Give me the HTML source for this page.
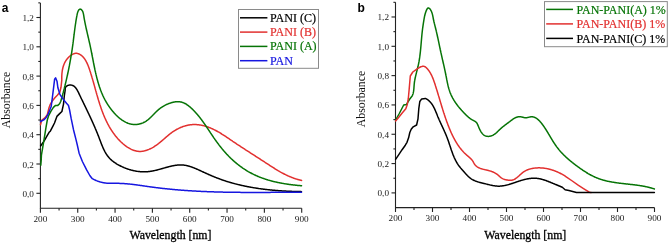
<!DOCTYPE html>
<html><head><meta charset="utf-8"><style>
html,body{margin:0;padding:0;background:#fff;}
svg{display:block;will-change:transform;}
.tl{font-family:"Liberation Serif",serif;font-size:9.2px;fill:#1a1a1a;}
.lg{font-family:"Liberation Serif",serif;font-size:12px;stroke-width:0.2px;}
.ax{font-family:"Liberation Serif",serif;font-size:11.8px;fill:#000;stroke:#000;stroke-width:0.3px;}
.ay{font-family:"Liberation Serif",serif;font-size:11.8px;fill:#111;}
.pl{font-family:"Liberation Sans",sans-serif;font-size:12px;font-weight:bold;fill:#000;}
</style></head><body>
<svg width="669" height="243" viewBox="0 0 669 243">
<rect width="669" height="243" fill="#fff"/>
<path d="M40.40,3.00 V208.30 H301.70" fill="none" stroke="#222" stroke-width="1.1"/>
<path d="M40.40,208.30 V212.70" stroke="#222" stroke-width="1.1"/>
<text x="40.40" y="221.90" class="tl" text-anchor="middle">200</text>
<path d="M59.06,208.30 V210.60" stroke="#222" stroke-width="1.1"/>
<path d="M77.73,208.30 V212.70" stroke="#222" stroke-width="1.1"/>
<text x="77.73" y="221.90" class="tl" text-anchor="middle">300</text>
<path d="M96.39,208.30 V210.60" stroke="#222" stroke-width="1.1"/>
<path d="M115.06,208.30 V212.70" stroke="#222" stroke-width="1.1"/>
<text x="115.06" y="221.90" class="tl" text-anchor="middle">400</text>
<path d="M133.72,208.30 V210.60" stroke="#222" stroke-width="1.1"/>
<path d="M152.39,208.30 V212.70" stroke="#222" stroke-width="1.1"/>
<text x="152.39" y="221.90" class="tl" text-anchor="middle">500</text>
<path d="M171.05,208.30 V210.60" stroke="#222" stroke-width="1.1"/>
<path d="M189.71,208.30 V212.70" stroke="#222" stroke-width="1.1"/>
<text x="189.71" y="221.90" class="tl" text-anchor="middle">600</text>
<path d="M208.38,208.30 V210.60" stroke="#222" stroke-width="1.1"/>
<path d="M227.04,208.30 V212.70" stroke="#222" stroke-width="1.1"/>
<text x="227.04" y="221.90" class="tl" text-anchor="middle">700</text>
<path d="M245.71,208.30 V210.60" stroke="#222" stroke-width="1.1"/>
<path d="M264.37,208.30 V212.70" stroke="#222" stroke-width="1.1"/>
<text x="264.37" y="221.90" class="tl" text-anchor="middle">800</text>
<path d="M283.04,208.30 V210.60" stroke="#222" stroke-width="1.1"/>
<path d="M301.70,208.30 V212.70" stroke="#222" stroke-width="1.1"/>
<text x="301.70" y="221.90" class="tl" text-anchor="middle">900</text>
<path d="M40.40,193.30 H36.40" stroke="#222" stroke-width="1.1"/>
<text x="33.90" y="196.80" class="tl" text-anchor="end">0,0</text>
<path d="M40.40,178.65 H38.30" stroke="#222" stroke-width="1.1"/>
<path d="M40.40,164.00 H36.40" stroke="#222" stroke-width="1.1"/>
<text x="33.90" y="167.50" class="tl" text-anchor="end">0,2</text>
<path d="M40.40,149.35 H38.30" stroke="#222" stroke-width="1.1"/>
<path d="M40.40,134.70 H36.40" stroke="#222" stroke-width="1.1"/>
<text x="33.90" y="138.20" class="tl" text-anchor="end">0,4</text>
<path d="M40.40,120.05 H38.30" stroke="#222" stroke-width="1.1"/>
<path d="M40.40,105.40 H36.40" stroke="#222" stroke-width="1.1"/>
<text x="33.90" y="108.90" class="tl" text-anchor="end">0,6</text>
<path d="M40.40,90.75 H38.30" stroke="#222" stroke-width="1.1"/>
<path d="M40.40,76.10 H36.40" stroke="#222" stroke-width="1.1"/>
<text x="33.90" y="79.60" class="tl" text-anchor="end">0,8</text>
<path d="M40.40,61.45 H38.30" stroke="#222" stroke-width="1.1"/>
<path d="M40.40,46.80 H36.40" stroke="#222" stroke-width="1.1"/>
<text x="33.90" y="50.30" class="tl" text-anchor="end">1,0</text>
<path d="M40.40,32.15 H38.30" stroke="#222" stroke-width="1.1"/>
<path d="M40.40,17.50 H36.40" stroke="#222" stroke-width="1.1"/>
<text x="33.90" y="21.00" class="tl" text-anchor="end">1,2</text>
<path d="M40.40,2.85 H38.30" stroke="#222" stroke-width="1.1"/>
<path d="M40.60,146.00 L42.90,142.80 L44.80,139.80 L46.60,136.70 L49.10,132.30 L50.30,131.20 L52.80,126.30 L54.50,123.00 L56.90,116.40 L59.40,113.90 L61.90,111.50 L63.50,104.10 L64.30,96.00 L65.20,90.00 L65.13,89.33 L65.15,88.72 L65.25,88.15 L65.42,87.64 L65.66,87.18 L65.95,86.76 L66.29,86.40 L66.67,86.08 L67.10,85.80 L67.55,85.57 L68.03,85.38 L68.52,85.23 L69.03,85.12 L69.54,85.05 L70.04,85.01 L70.54,85.02 L71.02,85.05 L71.48,85.12 L71.93,85.22 L72.35,85.36 L72.76,85.52 L73.16,85.71 L73.54,85.92 L73.91,86.17 L74.26,86.43 L74.60,86.72 L74.93,87.03 L75.25,87.36 L75.55,87.71 L75.85,88.08 L76.14,88.46 L76.42,88.86 L76.69,89.27 L76.95,89.70 L77.21,90.13 L77.46,90.58 L77.70,91.03 L77.94,91.49 L78.18,91.96 L78.41,92.43 L78.65,92.90 L78.87,93.38 L79.10,93.86 L79.33,94.33 L79.56,94.81 L79.78,95.28 L80.01,95.76 L80.24,96.23 L80.46,96.70 L80.69,97.17 L80.92,97.64 L81.14,98.11 L81.37,98.57 L81.59,99.04 L81.82,99.50 L82.04,99.97 L82.26,100.43 L82.49,100.89 L82.71,101.36 L82.93,101.82 L83.16,102.28 L83.38,102.74 L83.60,103.20 L83.82,103.65 L84.04,104.11 L84.26,104.57 L84.48,105.02 L84.70,105.48 L84.92,105.93 L85.14,106.39 L85.36,106.84 L85.58,107.30 L85.80,107.75 L86.02,108.20 L86.23,108.65 L86.45,109.10 L86.67,109.56 L86.88,110.01 L87.10,110.46 L87.31,110.91 L87.53,111.36 L87.74,111.81 L87.96,112.26 L88.17,112.70 L88.38,113.15 L88.60,113.60 L88.81,114.05 L89.02,114.50 L89.23,114.95 L89.44,115.40 L89.65,115.84 L89.86,116.29 L90.07,116.74 L90.28,117.19 L90.49,117.64 L90.70,118.08 L90.90,118.53 L91.11,118.98 L91.32,119.43 L91.52,119.88 L91.73,120.33 L91.93,120.78 L92.14,121.23 L92.34,121.68 L92.54,122.13 L92.75,122.58 L92.95,123.03 L93.15,123.48 L93.35,123.93 L93.55,124.38 L93.75,124.83 L93.95,125.28 L94.15,125.74 L94.34,126.19 L94.54,126.65 L94.74,127.10 L94.93,127.55 L95.13,128.01 L95.32,128.47 L95.52,128.92 L95.71,129.38 L95.90,129.84 L96.10,130.30 L96.29,130.76 L96.48,131.22 L96.67,131.68 L96.86,132.14 L97.05,132.60 L97.24,133.07 L97.42,133.53 L97.61,134.00 L97.80,134.46 L97.98,134.93 L98.17,135.40 L98.35,135.87 L98.53,136.34 L98.72,136.81 L98.90,137.28 L99.08,137.75 L99.26,138.23 L99.44,138.70 L99.62,139.18 L99.80,139.66 L99.98,140.13 L100.16,140.61 L100.34,141.09 L100.52,141.57 L100.70,142.05 L100.88,142.52 L101.06,143.00 L101.25,143.48 L101.43,143.95 L101.62,144.43 L101.81,144.90 L102.00,145.37 L102.19,145.84 L102.39,146.31 L102.59,146.78 L102.79,147.25 L102.99,147.71 L103.20,148.17 L103.41,148.63 L103.62,149.09 L103.83,149.54 L104.05,149.99 L104.28,150.44 L104.51,150.89 L104.74,151.33 L104.97,151.77 L105.22,152.20 L105.46,152.63 L105.71,153.06 L105.97,153.49 L106.23,153.91 L106.50,154.32 L106.77,154.73 L107.05,155.14 L107.33,155.54 L107.62,155.93 L107.92,156.33 L108.22,156.71 L108.53,157.09 L108.85,157.47 L109.17,157.84 L109.50,158.20 L109.84,158.56 L110.19,158.91 L110.54,159.25 L110.90,159.59 L111.27,159.93 L111.64,160.25 L112.02,160.58 L112.40,160.89 L112.79,161.21 L113.19,161.51 L113.59,161.81 L114.00,162.11 L114.41,162.40 L114.82,162.69 L115.24,162.97 L115.66,163.24 L116.09,163.51 L116.52,163.78 L116.96,164.04 L117.39,164.30 L117.83,164.55 L118.27,164.80 L118.72,165.05 L119.17,165.29 L119.62,165.53 L120.07,165.76 L120.52,165.99 L120.97,166.21 L121.43,166.43 L121.89,166.65 L122.34,166.86 L122.80,167.07 L123.27,167.27 L123.73,167.47 L124.19,167.67 L124.66,167.86 L125.12,168.05 L125.59,168.23 L126.06,168.41 L126.53,168.59 L127.00,168.76 L127.47,168.92 L127.95,169.09 L128.42,169.24 L128.90,169.40 L129.37,169.55 L129.85,169.69 L130.33,169.83 L130.81,169.97 L131.29,170.10 L131.77,170.22 L132.25,170.34 L132.74,170.46 L133.22,170.57 L133.70,170.68 L134.19,170.78 L134.68,170.88 L135.16,170.97 L135.65,171.06 L136.14,171.15 L136.63,171.22 L137.11,171.30 L137.60,171.37 L138.09,171.43 L138.59,171.49 L139.08,171.54 L139.57,171.59 L140.06,171.64 L140.55,171.68 L141.05,171.71 L141.54,171.74 L142.03,171.76 L142.53,171.78 L143.02,171.79 L143.51,171.80 L144.01,171.80 L144.50,171.80 L145.00,171.79 L145.49,171.78 L145.99,171.76 L146.48,171.73 L146.98,171.70 L147.47,171.67 L147.97,171.63 L148.46,171.58 L148.96,171.53 L149.45,171.47 L149.95,171.41 L150.44,171.34 L150.93,171.27 L151.43,171.19 L151.92,171.10 L152.42,171.01 L152.91,170.92 L153.40,170.82 L153.90,170.72 L154.39,170.61 L154.88,170.50 L155.38,170.39 L155.87,170.27 L156.36,170.15 L156.85,170.03 L157.35,169.91 L157.84,169.78 L158.33,169.65 L158.82,169.52 L159.31,169.38 L159.80,169.25 L160.29,169.11 L160.79,168.97 L161.28,168.83 L161.77,168.69 L162.26,168.55 L162.75,168.41 L163.24,168.27 L163.73,168.13 L164.22,167.99 L164.71,167.85 L165.20,167.71 L165.69,167.58 L166.18,167.44 L166.67,167.30 L167.16,167.17 L167.64,167.04 L168.13,166.91 L168.62,166.78 L169.11,166.65 L169.60,166.53 L170.09,166.41 L170.57,166.30 L171.06,166.18 L171.55,166.07 L172.04,165.97 L172.52,165.86 L173.01,165.77 L173.50,165.67 L173.99,165.58 L174.47,165.50 L174.96,165.42 L175.45,165.35 L175.93,165.28 L176.42,165.21 L176.90,165.16 L177.39,165.11 L177.87,165.06 L178.36,165.02 L178.85,164.99 L179.33,164.97 L179.82,164.95 L180.30,164.94 L180.79,164.93 L181.27,164.94 L181.75,164.95 L182.24,164.97 L182.72,165.00 L183.21,165.04 L183.69,165.09 L184.18,165.14 L184.66,165.21 L185.14,165.28 L185.63,165.37 L186.11,165.46 L186.59,165.56 L187.07,165.66 L187.56,165.78 L188.04,165.90 L188.52,166.03 L189.00,166.16 L189.48,166.30 L189.96,166.45 L190.44,166.61 L190.92,166.77 L191.40,166.93 L191.88,167.10 L192.36,167.28 L192.84,167.45 L193.31,167.64 L193.79,167.83 L194.27,168.02 L194.74,168.21 L195.22,168.41 L195.69,168.61 L196.17,168.81 L196.64,169.02 L197.11,169.22 L197.58,169.43 L198.05,169.64 L198.52,169.86 L198.99,170.07 L199.46,170.28 L199.93,170.50 L200.40,170.71 L200.86,170.92 L201.33,171.14 L201.79,171.35 L202.26,171.56 L202.72,171.78 L203.18,171.99 L203.64,172.20 L204.10,172.41 L204.56,172.62 L205.02,172.83 L205.48,173.04 L205.94,173.25 L206.40,173.46 L206.86,173.66 L207.32,173.87 L207.78,174.08 L208.24,174.28 L208.70,174.49 L209.15,174.69 L209.61,174.89 L210.07,175.09 L210.53,175.29 L210.99,175.49 L211.45,175.69 L211.91,175.88 L212.36,176.08 L212.82,176.27 L213.28,176.47 L213.74,176.66 L214.21,176.85 L214.67,177.03 L215.13,177.22 L215.59,177.41 L216.05,177.59 L216.52,177.77 L216.98,177.95 L217.45,178.13 L217.91,178.31 L218.38,178.49 L218.84,178.66 L219.31,178.83 L219.78,179.00 L220.24,179.17 L220.71,179.34 L221.18,179.51 L221.65,179.68 L222.12,179.84 L222.59,180.00 L223.06,180.17 L223.53,180.33 L224.01,180.48 L224.48,180.64 L224.95,180.80 L225.42,180.95 L225.90,181.10 L226.37,181.26 L226.85,181.41 L227.32,181.56 L227.80,181.70 L228.27,181.85 L228.75,181.99 L229.23,182.14 L229.70,182.28 L230.18,182.42 L230.66,182.56 L231.14,182.70 L231.62,182.83 L232.10,182.97 L232.58,183.10 L233.06,183.24 L233.54,183.37 L234.02,183.50 L234.50,183.63 L234.98,183.76 L235.47,183.88 L235.95,184.01 L236.43,184.13 L236.92,184.25 L237.40,184.37 L237.88,184.49 L238.37,184.61 L238.85,184.73 L239.34,184.85 L239.82,184.96 L240.31,185.08 L240.80,185.19 L241.28,185.30 L241.77,185.41 L242.26,185.52 L242.75,185.63 L243.23,185.73 L243.72,185.84 L244.21,185.94 L244.70,186.05 L245.19,186.15 L245.68,186.25 L246.17,186.35 L246.66,186.45 L247.15,186.55 L247.64,186.64 L248.13,186.74 L248.62,186.83 L249.12,186.92 L249.61,187.02 L250.10,187.11 L250.59,187.20 L251.09,187.28 L251.58,187.37 L252.07,187.46 L252.57,187.54 L253.06,187.63 L253.55,187.71 L254.05,187.79 L254.54,187.87 L255.04,187.95 L255.53,188.03 L256.03,188.11 L256.52,188.19 L257.02,188.26 L257.52,188.34 L258.01,188.41 L258.51,188.48 L259.00,188.56 L259.50,188.63 L260.00,188.70 L260.49,188.77 L260.99,188.83 L261.49,188.90 L261.99,188.97 L262.48,189.03 L262.98,189.10 L263.48,189.16 L263.98,189.22 L264.48,189.28 L264.98,189.34 L265.47,189.40 L265.97,189.46 L266.47,189.52 L266.97,189.57 L267.47,189.63 L267.97,189.68 L268.47,189.74 L268.97,189.79 L269.47,189.84 L269.97,189.90 L270.47,189.95 L270.97,190.00 L271.47,190.04 L271.97,190.09 L272.47,190.14 L272.97,190.19 L273.47,190.23 L273.97,190.27 L274.47,190.32 L274.97,190.36 L275.47,190.40 L275.97,190.44 L276.48,190.49 L276.98,190.53 L277.48,190.56 L277.98,190.60 L278.48,190.64 L278.98,190.68 L279.48,190.71 L279.98,190.75 L280.48,190.78 L280.99,190.82 L281.49,190.85 L281.99,190.88 L282.49,190.91 L282.99,190.94 L283.49,190.97 L283.99,191.00 L284.49,191.03 L285.00,191.06 L285.50,191.09 L286.00,191.11 L286.50,191.14 L287.00,191.16 L287.50,191.19 L288.00,191.21 L288.50,191.23 L289.00,191.26 L289.51,191.28 L290.01,191.30 L290.51,191.32 L291.01,191.34 L291.51,191.36 L292.01,191.38 L292.51,191.40 L293.01,191.41 L293.51,191.43 L294.01,191.45 L294.51,191.46 L295.01,191.48 L295.51,191.49 L296.01,191.51 L296.51,191.52 L297.01,191.53 L297.51,191.55 L298.01,191.56 L298.51,191.57 L299.01,191.58 L299.51,191.59 L300.01,191.60 L300.51,191.61 L301.00,191.62 L301.50,191.63" fill="none" stroke="#000" stroke-width="1.50" stroke-linejoin="round" stroke-linecap="round"/>
<path d="M40.50,124.70 L41.70,120.40 L44.80,117.90 L47.30,114.80 L49.10,107.40 L50.30,104.30 L52.30,101.00 L54.90,97.80 L57.30,95.20 L59.80,92.30 L61.00,87.30 L61.80,80.00 L61.79,79.51 L61.78,79.01 L61.77,78.51 L61.77,78.02 L61.77,77.51 L61.77,77.01 L61.78,76.51 L61.80,76.01 L61.82,75.50 L61.84,75.00 L61.87,74.50 L61.91,73.99 L61.95,73.49 L62.00,72.98 L62.05,72.48 L62.11,71.98 L62.18,71.48 L62.25,70.98 L62.33,70.48 L62.41,69.98 L62.51,69.49 L62.61,68.99 L62.72,68.50 L62.83,68.01 L62.95,67.53 L63.09,67.04 L63.22,66.56 L63.37,66.09 L63.53,65.61 L63.69,65.14 L63.87,64.68 L64.05,64.21 L64.24,63.76 L64.45,63.30 L64.66,62.85 L64.88,62.41 L65.11,61.97 L65.35,61.53 L65.61,61.10 L65.87,60.68 L66.14,60.26 L66.43,59.85 L66.73,59.44 L67.03,59.05 L67.35,58.65 L67.68,58.27 L68.02,57.89 L68.38,57.51 L68.75,57.15 L69.13,56.79 L69.52,56.44 L69.92,56.10 L70.34,55.77 L70.77,55.45 L71.20,55.15 L71.65,54.86 L72.10,54.59 L72.55,54.34 L73.02,54.11 L73.48,53.91 L73.95,53.73 L74.42,53.58 L74.89,53.46 L75.36,53.37 L75.83,53.32 L76.29,53.31 L76.75,53.33 L77.21,53.39 L77.66,53.48 L78.10,53.61 L78.53,53.76 L78.96,53.94 L79.38,54.14 L79.79,54.36 L80.19,54.59 L80.58,54.84 L80.96,55.10 L81.33,55.38 L81.69,55.67 L82.04,55.97 L82.38,56.29 L82.72,56.61 L83.04,56.95 L83.36,57.30 L83.67,57.66 L83.97,58.03 L84.26,58.41 L84.55,58.80 L84.82,59.20 L85.09,59.61 L85.36,60.03 L85.62,60.46 L85.87,60.89 L86.11,61.33 L86.35,61.77 L86.58,62.23 L86.81,62.69 L87.03,63.15 L87.25,63.62 L87.46,64.10 L87.66,64.58 L87.87,65.06 L88.06,65.55 L88.26,66.04 L88.45,66.53 L88.63,67.03 L88.82,67.53 L89.00,68.03 L89.17,68.53 L89.35,69.03 L89.52,69.53 L89.69,70.03 L89.85,70.54 L90.02,71.04 L90.18,71.54 L90.34,72.04 L90.50,72.54 L90.66,73.03 L90.81,73.53 L90.97,74.02 L91.12,74.52 L91.27,75.01 L91.43,75.50 L91.58,75.99 L91.72,76.48 L91.87,76.97 L92.02,77.46 L92.16,77.95 L92.31,78.43 L92.45,78.92 L92.59,79.41 L92.73,79.89 L92.87,80.37 L93.01,80.86 L93.15,81.34 L93.29,81.82 L93.42,82.30 L93.56,82.78 L93.70,83.26 L93.83,83.74 L93.97,84.22 L94.10,84.69 L94.23,85.17 L94.37,85.65 L94.50,86.13 L94.63,86.60 L94.77,87.08 L94.90,87.55 L95.03,88.03 L95.16,88.50 L95.29,88.98 L95.43,89.45 L95.56,89.93 L95.69,90.40 L95.82,90.88 L95.96,91.35 L96.09,91.82 L96.22,92.30 L96.36,92.77 L96.49,93.25 L96.62,93.72 L96.76,94.19 L96.89,94.67 L97.03,95.14 L97.17,95.62 L97.30,96.09 L97.44,96.57 L97.58,97.04 L97.72,97.52 L97.86,97.99 L98.00,98.47 L98.14,98.94 L98.28,99.42 L98.42,99.90 L98.57,100.37 L98.71,100.85 L98.86,101.33 L99.01,101.80 L99.16,102.28 L99.31,102.75 L99.46,103.23 L99.61,103.71 L99.76,104.18 L99.91,104.66 L100.07,105.13 L100.23,105.61 L100.38,106.08 L100.54,106.56 L100.70,107.03 L100.87,107.51 L101.03,107.98 L101.20,108.46 L101.36,108.93 L101.53,109.40 L101.70,109.87 L101.87,110.34 L102.04,110.82 L102.22,111.29 L102.39,111.76 L102.57,112.23 L102.75,112.69 L102.93,113.16 L103.11,113.63 L103.30,114.10 L103.49,114.56 L103.67,115.03 L103.86,115.49 L104.06,115.96 L104.25,116.42 L104.45,116.88 L104.64,117.34 L104.85,117.80 L105.05,118.26 L105.25,118.72 L105.46,119.18 L105.67,119.63 L105.88,120.09 L106.09,120.54 L106.31,120.99 L106.53,121.44 L106.75,121.90 L106.97,122.34 L107.19,122.79 L107.42,123.24 L107.65,123.68 L107.88,124.13 L108.12,124.57 L108.35,125.01 L108.59,125.45 L108.84,125.89 L109.08,126.33 L109.33,126.76 L109.58,127.20 L109.83,127.63 L110.09,128.06 L110.35,128.49 L110.61,128.92 L110.87,129.34 L111.14,129.77 L111.41,130.19 L111.68,130.61 L111.96,131.03 L112.24,131.45 L112.52,131.87 L112.80,132.28 L113.09,132.69 L113.38,133.10 L113.68,133.51 L113.98,133.92 L114.28,134.32 L114.58,134.72 L114.89,135.12 L115.20,135.52 L115.51,135.92 L115.83,136.31 L116.15,136.70 L116.47,137.09 L116.80,137.48 L117.13,137.87 L117.46,138.25 L117.80,138.63 L118.14,139.01 L118.49,139.38 L118.84,139.76 L119.19,140.13 L119.54,140.50 L119.90,140.87 L120.27,141.23 L120.63,141.59 L121.01,141.95 L121.38,142.31 L121.76,142.66 L122.14,143.01 L122.53,143.36 L122.91,143.70 L123.31,144.04 L123.70,144.37 L124.10,144.70 L124.50,145.03 L124.91,145.35 L125.32,145.66 L125.73,145.97 L126.14,146.27 L126.56,146.57 L126.98,146.86 L127.41,147.14 L127.83,147.42 L128.26,147.69 L128.69,147.95 L129.13,148.21 L129.57,148.46 L130.01,148.70 L130.45,148.93 L130.89,149.15 L131.34,149.37 L131.79,149.57 L132.24,149.77 L132.69,149.95 L133.15,150.13 L133.61,150.29 L134.07,150.45 L134.53,150.59 L134.99,150.73 L135.46,150.85 L135.93,150.96 L136.40,151.06 L136.87,151.15 L137.34,151.23 L137.81,151.29 L138.29,151.34 L138.77,151.38 L139.24,151.41 L139.72,151.42 L140.21,151.42 L140.69,151.41 L141.17,151.38 L141.66,151.34 L142.14,151.28 L142.63,151.22 L143.11,151.14 L143.60,151.05 L144.08,150.95 L144.57,150.84 L145.05,150.72 L145.53,150.58 L146.02,150.44 L146.50,150.29 L146.98,150.13 L147.46,149.95 L147.94,149.77 L148.41,149.59 L148.89,149.39 L149.36,149.18 L149.83,148.97 L150.30,148.75 L150.76,148.53 L151.22,148.29 L151.68,148.05 L152.14,147.81 L152.59,147.55 L153.04,147.30 L153.48,147.04 L153.92,146.77 L154.36,146.50 L154.79,146.22 L155.22,145.94 L155.64,145.66 L156.06,145.37 L156.47,145.08 L156.89,144.78 L157.29,144.49 L157.70,144.19 L158.10,143.88 L158.50,143.58 L158.89,143.27 L159.28,142.96 L159.67,142.65 L160.06,142.33 L160.44,142.02 L160.83,141.70 L161.21,141.38 L161.59,141.06 L161.96,140.74 L162.34,140.42 L162.72,140.09 L163.09,139.77 L163.46,139.44 L163.84,139.12 L164.21,138.79 L164.58,138.47 L164.95,138.14 L165.33,137.82 L165.70,137.50 L166.07,137.17 L166.44,136.85 L166.82,136.53 L167.19,136.21 L167.57,135.89 L167.95,135.57 L168.33,135.25 L168.71,134.94 L169.09,134.63 L169.47,134.32 L169.86,134.01 L170.25,133.70 L170.64,133.40 L171.04,133.10 L171.43,132.80 L171.83,132.51 L172.24,132.22 L172.65,131.93 L173.06,131.65 L173.47,131.37 L173.89,131.09 L174.31,130.82 L174.74,130.55 L175.17,130.29 L175.61,130.03 L176.05,129.77 L176.49,129.52 L176.94,129.28 L177.39,129.04 L177.84,128.80 L178.30,128.57 L178.76,128.35 L179.23,128.13 L179.69,127.91 L180.16,127.71 L180.64,127.50 L181.11,127.31 L181.59,127.11 L182.07,126.93 L182.55,126.75 L183.04,126.58 L183.52,126.41 L184.01,126.25 L184.50,126.10 L184.99,125.95 L185.49,125.81 L185.98,125.67 L186.48,125.55 L186.97,125.43 L187.47,125.31 L187.97,125.21 L188.47,125.11 L188.97,125.02 L189.47,124.94 L189.97,124.86 L190.47,124.79 L190.97,124.73 L191.47,124.68 L191.97,124.64 L192.47,124.60 L192.97,124.57 L193.47,124.55 L193.96,124.54 L194.46,124.54 L194.96,124.54 L195.46,124.55 L195.95,124.57 L196.45,124.59 L196.94,124.63 L197.44,124.67 L197.93,124.71 L198.42,124.76 L198.91,124.82 L199.40,124.89 L199.89,124.96 L200.38,125.04 L200.87,125.13 L201.36,125.22 L201.84,125.31 L202.33,125.42 L202.81,125.53 L203.30,125.64 L203.78,125.76 L204.26,125.89 L204.74,126.02 L205.21,126.16 L205.69,126.30 L206.16,126.44 L206.64,126.60 L207.11,126.75 L207.58,126.91 L208.05,127.08 L208.52,127.25 L208.98,127.43 L209.45,127.61 L209.91,127.79 L210.37,127.98 L210.83,128.17 L211.29,128.37 L211.74,128.57 L212.20,128.77 L212.65,128.98 L213.10,129.19 L213.55,129.40 L214.00,129.62 L214.44,129.84 L214.88,130.06 L215.33,130.29 L215.77,130.52 L216.21,130.76 L216.65,130.99 L217.08,131.23 L217.52,131.47 L217.95,131.72 L218.39,131.96 L218.82,132.21 L219.25,132.46 L219.68,132.72 L220.11,132.97 L220.54,133.23 L220.96,133.49 L221.39,133.75 L221.81,134.02 L222.24,134.28 L222.66,134.55 L223.08,134.82 L223.51,135.09 L223.93,135.36 L224.35,135.64 L224.77,135.91 L225.19,136.19 L225.61,136.46 L226.02,136.74 L226.44,137.02 L226.86,137.30 L227.28,137.58 L227.69,137.86 L228.11,138.14 L228.52,138.42 L228.94,138.70 L229.35,138.99 L229.77,139.27 L230.18,139.55 L230.60,139.83 L231.01,140.12 L231.43,140.40 L231.84,140.68 L232.26,140.96 L232.67,141.25 L233.09,141.53 L233.51,141.81 L233.92,142.09 L234.34,142.37 L234.75,142.65 L235.17,142.93 L235.58,143.20 L236.00,143.48 L236.42,143.76 L236.83,144.04 L237.25,144.31 L237.67,144.59 L238.08,144.87 L238.50,145.14 L238.92,145.42 L239.33,145.69 L239.75,145.97 L240.17,146.24 L240.59,146.52 L241.00,146.79 L241.42,147.06 L241.84,147.34 L242.26,147.61 L242.68,147.88 L243.09,148.15 L243.51,148.43 L243.93,148.70 L244.35,148.97 L244.77,149.24 L245.19,149.51 L245.60,149.79 L246.02,150.06 L246.44,150.33 L246.86,150.60 L247.28,150.87 L247.70,151.14 L248.12,151.41 L248.54,151.68 L248.95,151.95 L249.37,152.22 L249.79,152.49 L250.21,152.76 L250.63,153.03 L251.05,153.30 L251.47,153.57 L251.89,153.84 L252.31,154.11 L252.73,154.38 L253.15,154.65 L253.57,154.92 L253.99,155.19 L254.41,155.46 L254.83,155.73 L255.25,156.00 L255.67,156.27 L256.09,156.54 L256.51,156.81 L256.93,157.08 L257.35,157.35 L257.77,157.62 L258.19,157.89 L258.61,158.16 L259.03,158.43 L259.45,158.70 L259.87,158.98 L260.29,159.25 L260.71,159.52 L261.13,159.79 L261.55,160.06 L261.97,160.33 L262.39,160.61 L262.81,160.88 L263.23,161.15 L263.65,161.42 L264.07,161.70 L264.49,161.97 L264.91,162.25 L265.33,162.52 L265.75,162.79 L266.17,163.07 L266.59,163.34 L267.01,163.62 L267.43,163.89 L267.85,164.17 L268.27,164.44 L268.69,164.71 L269.11,164.99 L269.53,165.26 L269.95,165.54 L270.37,165.81 L270.79,166.08 L271.22,166.35 L271.64,166.62 L272.06,166.89 L272.49,167.16 L272.91,167.43 L273.34,167.70 L273.76,167.97 L274.19,168.24 L274.61,168.50 L275.04,168.77 L275.47,169.03 L275.89,169.29 L276.32,169.55 L276.75,169.81 L277.18,170.07 L277.61,170.33 L278.04,170.58 L278.47,170.84 L278.91,171.09 L279.34,171.34 L279.78,171.59 L280.21,171.84 L280.65,172.08 L281.08,172.33 L281.52,172.57 L281.96,172.81 L282.40,173.05 L282.84,173.28 L283.28,173.52 L283.73,173.75 L284.17,173.98 L284.62,174.21 L285.06,174.43 L285.51,174.66 L285.96,174.88 L286.41,175.09 L286.86,175.31 L287.31,175.52 L287.77,175.73 L288.22,175.94 L288.68,176.14 L289.14,176.34 L289.60,176.54 L290.06,176.74 L290.52,176.93 L290.98,177.12 L291.45,177.31 L291.91,177.49 L292.38,177.67 L292.85,177.85 L293.32,178.02 L293.79,178.19 L294.27,178.36 L294.75,178.52 L295.22,178.68 L295.70,178.84 L296.18,178.99 L296.67,179.14 L297.15,179.28 L297.64,179.42 L298.13,179.56 L298.62,179.69 L299.11,179.82 L299.60,179.95 L300.10,180.07 L300.60,180.19 L301.10,180.30 L301.60,180.41" fill="none" stroke="#e2302f" stroke-width="1.50" stroke-linejoin="round" stroke-linecap="round"/>
<path d="M40.80,165.30 L41.20,160.30 L41.40,155.40 L42.00,151.70 L42.30,150.00 L43.60,142.20 L44.80,134.80 L46.00,127.40 L47.30,120.00 L48.50,116.00 L51.00,111.10 L53.40,107.40 L55.30,105.60 L57.80,105.40 L59.60,103.70 L60.80,101.20 L60.94,100.72 L61.08,100.24 L61.22,99.76 L61.35,99.29 L61.49,98.81 L61.62,98.33 L61.76,97.85 L61.89,97.36 L62.03,96.88 L62.16,96.40 L62.29,95.92 L62.42,95.44 L62.56,94.96 L62.69,94.47 L62.82,93.99 L62.95,93.51 L63.08,93.03 L63.20,92.54 L63.33,92.06 L63.46,91.57 L63.59,91.09 L63.71,90.61 L63.84,90.12 L63.96,89.64 L64.09,89.15 L64.21,88.66 L64.34,88.18 L64.46,87.69 L64.58,87.21 L64.70,86.72 L64.82,86.23 L64.95,85.75 L65.07,85.26 L65.18,84.77 L65.30,84.28 L65.42,83.80 L65.54,83.31 L65.66,82.82 L65.77,82.33 L65.89,81.84 L66.00,81.35 L66.12,80.86 L66.23,80.37 L66.35,79.88 L66.46,79.39 L66.57,78.90 L66.68,78.41 L66.79,77.92 L66.90,77.43 L67.01,76.94 L67.12,76.45 L67.23,75.96 L67.34,75.47 L67.45,74.98 L67.55,74.49 L67.66,74.00 L67.77,73.50 L67.87,73.01 L67.98,72.52 L68.08,72.03 L68.18,71.54 L68.29,71.04 L68.39,70.55 L68.49,70.06 L68.59,69.57 L68.69,69.07 L68.79,68.58 L68.89,68.09 L68.98,67.59 L69.08,67.10 L69.18,66.61 L69.28,66.11 L69.37,65.62 L69.47,65.13 L69.56,64.63 L69.65,64.14 L69.75,63.65 L69.84,63.15 L69.93,62.66 L70.02,62.16 L70.11,61.67 L70.20,61.18 L70.29,60.68 L70.38,60.19 L70.47,59.69 L70.55,59.20 L70.64,58.70 L70.73,58.21 L70.81,57.72 L70.90,57.22 L70.98,56.73 L71.06,56.23 L71.14,55.74 L71.23,55.24 L71.31,54.75 L71.39,54.25 L71.47,53.76 L71.55,53.26 L71.63,52.77 L71.70,52.28 L71.78,51.78 L71.86,51.29 L71.93,50.79 L72.01,50.30 L72.08,49.80 L72.16,49.31 L72.23,48.81 L72.30,48.32 L72.37,47.83 L72.44,47.33 L72.51,46.84 L72.58,46.34 L72.65,45.85 L72.72,45.35 L72.79,44.86 L72.85,44.37 L72.92,43.87 L72.99,43.38 L73.05,42.88 L73.11,42.39 L73.18,41.90 L73.24,41.40 L73.30,40.91 L73.37,40.41 L73.43,39.92 L73.49,39.43 L73.55,38.93 L73.62,38.44 L73.68,37.94 L73.74,37.45 L73.80,36.95 L73.86,36.46 L73.92,35.97 L73.98,35.47 L74.05,34.98 L74.11,34.48 L74.17,33.98 L74.23,33.49 L74.29,32.99 L74.36,32.50 L74.42,32.00 L74.48,31.50 L74.55,31.01 L74.61,30.51 L74.67,30.01 L74.74,29.51 L74.81,29.01 L74.87,28.52 L74.94,28.02 L75.01,27.52 L75.08,27.02 L75.14,26.52 L75.21,26.02 L75.29,25.52 L75.36,25.01 L75.43,24.51 L75.50,24.01 L75.58,23.51 L75.66,23.01 L75.73,22.50 L75.81,22.00 L75.89,21.49 L75.97,20.99 L76.05,20.48 L76.14,19.98 L76.22,19.47 L76.31,18.96 L76.40,18.45 L76.48,17.95 L76.58,17.44 L76.67,16.93 L76.76,16.42 L76.86,15.91 L76.95,15.39 L77.05,14.88 L77.16,14.37 L77.26,13.86 L77.38,13.36 L77.51,12.86 L77.65,12.38 L77.81,11.91 L77.99,11.45 L78.19,11.01 L78.41,10.59 L78.66,10.19 L78.94,9.83 L79.25,9.51 L79.57,9.28 L79.92,9.14 L80.29,9.12 L80.66,9.22 L81.04,9.42 L81.40,9.69 L81.74,10.03 L82.06,10.40 L82.33,10.80 L82.57,11.23 L82.78,11.67 L82.96,12.13 L83.11,12.61 L83.25,13.11 L83.37,13.61 L83.47,14.12 L83.57,14.64 L83.65,15.16 L83.74,15.69 L83.82,16.21 L83.91,16.73 L84.00,17.25 L84.09,17.77 L84.17,18.28 L84.27,18.80 L84.36,19.31 L84.45,19.82 L84.55,20.33 L84.64,20.83 L84.74,21.34 L84.83,21.84 L84.93,22.35 L85.03,22.85 L85.13,23.35 L85.23,23.84 L85.33,24.34 L85.44,24.84 L85.54,25.33 L85.64,25.83 L85.75,26.32 L85.85,26.81 L85.96,27.30 L86.07,27.79 L86.17,28.28 L86.28,28.77 L86.39,29.26 L86.50,29.74 L86.61,30.23 L86.72,30.71 L86.83,31.20 L86.94,31.68 L87.05,32.16 L87.16,32.65 L87.27,33.13 L87.38,33.61 L87.49,34.09 L87.60,34.57 L87.72,35.05 L87.83,35.53 L87.94,36.01 L88.05,36.49 L88.16,36.97 L88.28,37.45 L88.39,37.93 L88.50,38.41 L88.61,38.89 L88.72,39.37 L88.83,39.85 L88.94,40.34 L89.05,40.82 L89.16,41.30 L89.27,41.78 L89.38,42.26 L89.49,42.74 L89.60,43.22 L89.71,43.71 L89.82,44.19 L89.92,44.67 L90.03,45.16 L90.14,45.65 L90.24,46.13 L90.34,46.62 L90.45,47.11 L90.55,47.59 L90.65,48.08 L90.76,48.57 L90.86,49.06 L90.96,49.56 L91.06,50.05 L91.16,50.54 L91.26,51.03 L91.36,51.53 L91.45,52.02 L91.55,52.52 L91.65,53.01 L91.75,53.51 L91.84,54.01 L91.94,54.50 L92.04,55.00 L92.13,55.50 L92.23,56.00 L92.33,56.50 L92.42,57.00 L92.52,57.49 L92.61,57.99 L92.71,58.49 L92.81,58.99 L92.90,59.49 L93.00,59.99 L93.10,60.49 L93.19,60.99 L93.29,61.49 L93.39,61.99 L93.49,62.49 L93.58,63.00 L93.68,63.50 L93.78,64.00 L93.88,64.50 L93.98,65.00 L94.08,65.50 L94.18,66.00 L94.28,66.49 L94.38,66.99 L94.49,67.49 L94.59,67.99 L94.69,68.49 L94.80,68.99 L94.90,69.49 L95.01,69.98 L95.12,70.48 L95.22,70.98 L95.33,71.47 L95.44,71.97 L95.55,72.46 L95.66,72.96 L95.78,73.45 L95.89,73.94 L96.01,74.43 L96.12,74.93 L96.24,75.42 L96.36,75.91 L96.48,76.40 L96.60,76.89 L96.72,77.37 L96.84,77.86 L96.97,78.35 L97.09,78.83 L97.22,79.32 L97.35,79.80 L97.48,80.28 L97.61,80.76 L97.75,81.24 L97.88,81.72 L98.02,82.20 L98.16,82.68 L98.30,83.16 L98.44,83.63 L98.59,84.11 L98.73,84.58 L98.88,85.05 L99.03,85.52 L99.18,85.99 L99.33,86.46 L99.49,86.92 L99.65,87.39 L99.81,87.85 L99.97,88.32 L100.13,88.78 L100.30,89.24 L100.47,89.70 L100.64,90.15 L100.81,90.61 L100.98,91.07 L101.16,91.52 L101.34,91.97 L101.52,92.43 L101.71,92.88 L101.90,93.33 L102.09,93.78 L102.28,94.22 L102.48,94.67 L102.67,95.11 L102.87,95.56 L103.08,96.00 L103.28,96.44 L103.49,96.88 L103.71,97.32 L103.92,97.76 L104.14,98.19 L104.36,98.63 L104.59,99.06 L104.81,99.50 L105.04,99.93 L105.28,100.36 L105.51,100.79 L105.75,101.22 L106.00,101.65 L106.25,102.07 L106.50,102.50 L106.75,102.92 L107.01,103.35 L107.27,103.77 L107.53,104.19 L107.80,104.61 L108.07,105.03 L108.35,105.44 L108.63,105.86 L108.91,106.27 L109.20,106.69 L109.49,107.10 L109.78,107.51 L110.08,107.92 L110.38,108.33 L110.69,108.74 L111.00,109.15 L111.31,109.55 L111.63,109.96 L111.95,110.36 L112.28,110.77 L112.61,111.17 L112.94,111.57 L113.28,111.97 L113.62,112.36 L113.97,112.76 L114.32,113.15 L114.68,113.54 L115.04,113.92 L115.40,114.31 L115.76,114.69 L116.13,115.06 L116.51,115.44 L116.88,115.81 L117.27,116.17 L117.65,116.53 L118.04,116.88 L118.43,117.23 L118.82,117.58 L119.22,117.92 L119.62,118.25 L120.02,118.58 L120.43,118.90 L120.84,119.21 L121.26,119.52 L121.67,119.82 L122.09,120.12 L122.51,120.40 L122.94,120.68 L123.37,120.95 L123.80,121.21 L124.23,121.47 L124.67,121.72 L125.11,121.95 L125.55,122.18 L125.99,122.40 L126.44,122.61 L126.89,122.81 L127.34,123.00 L127.79,123.18 L128.25,123.35 L128.71,123.50 L129.17,123.65 L129.63,123.79 L130.09,123.91 L130.56,124.02 L131.03,124.13 L131.50,124.22 L131.97,124.29 L132.44,124.36 L132.92,124.41 L133.39,124.46 L133.87,124.49 L134.34,124.51 L134.82,124.52 L135.30,124.51 L135.77,124.50 L136.25,124.47 L136.73,124.43 L137.20,124.38 L137.67,124.32 L138.15,124.25 L138.62,124.17 L139.09,124.07 L139.56,123.97 L140.02,123.85 L140.49,123.72 L140.95,123.58 L141.41,123.43 L141.87,123.26 L142.32,123.09 L142.77,122.91 L143.22,122.71 L143.66,122.50 L144.10,122.28 L144.54,122.05 L144.97,121.81 L145.40,121.56 L145.82,121.29 L146.24,121.02 L146.65,120.73 L147.06,120.44 L147.47,120.13 L147.87,119.82 L148.27,119.49 L148.66,119.16 L149.05,118.83 L149.44,118.48 L149.83,118.13 L150.21,117.78 L150.59,117.42 L150.96,117.05 L151.34,116.68 L151.71,116.31 L152.09,115.94 L152.46,115.56 L152.83,115.18 L153.20,114.80 L153.57,114.43 L153.93,114.05 L154.30,113.67 L154.67,113.30 L155.04,112.92 L155.41,112.55 L155.78,112.18 L156.15,111.82 L156.52,111.46 L156.89,111.11 L157.27,110.76 L157.65,110.42 L158.03,110.08 L158.41,109.76 L158.79,109.43 L159.17,109.12 L159.56,108.81 L159.95,108.50 L160.35,108.21 L160.74,107.92 L161.14,107.63 L161.55,107.35 L161.95,107.08 L162.36,106.82 L162.77,106.56 L163.19,106.30 L163.61,106.05 L164.03,105.81 L164.46,105.57 L164.89,105.34 L165.32,105.12 L165.76,104.90 L166.21,104.69 L166.66,104.48 L167.11,104.28 L167.57,104.08 L168.03,103.89 L168.50,103.70 L168.97,103.52 L169.45,103.35 L169.93,103.18 L170.42,103.02 L170.91,102.86 L171.40,102.71 L171.90,102.57 L172.40,102.44 L172.90,102.32 L173.40,102.20 L173.91,102.10 L174.41,102.01 L174.92,101.92 L175.43,101.85 L175.93,101.79 L176.44,101.75 L176.94,101.72 L177.44,101.70 L177.95,101.69 L178.44,101.70 L178.94,101.72 L179.43,101.77 L179.92,101.82 L180.40,101.89 L180.88,101.98 L181.35,102.09 L181.82,102.22 L182.29,102.35 L182.75,102.51 L183.20,102.68 L183.66,102.86 L184.10,103.06 L184.54,103.27 L184.98,103.49 L185.42,103.73 L185.85,103.97 L186.27,104.23 L186.69,104.50 L187.11,104.78 L187.52,105.06 L187.93,105.36 L188.34,105.66 L188.74,105.97 L189.14,106.29 L189.53,106.61 L189.92,106.94 L190.31,107.27 L190.69,107.61 L191.07,107.96 L191.45,108.30 L191.82,108.65 L192.19,109.01 L192.56,109.36 L192.92,109.72 L193.28,110.08 L193.64,110.44 L194.00,110.80 L194.35,111.17 L194.70,111.53 L195.04,111.90 L195.38,112.27 L195.72,112.65 L196.06,113.02 L196.40,113.40 L196.73,113.78 L197.06,114.16 L197.38,114.54 L197.71,114.93 L198.03,115.31 L198.35,115.70 L198.67,116.09 L198.99,116.48 L199.30,116.87 L199.61,117.26 L199.92,117.66 L200.23,118.05 L200.53,118.45 L200.84,118.85 L201.14,119.25 L201.44,119.65 L201.74,120.05 L202.04,120.46 L202.33,120.86 L202.63,121.26 L202.92,121.67 L203.21,122.08 L203.50,122.49 L203.79,122.90 L204.08,123.31 L204.37,123.72 L204.65,124.13 L204.94,124.54 L205.22,124.95 L205.50,125.36 L205.79,125.78 L206.07,126.19 L206.35,126.61 L206.63,127.02 L206.91,127.44 L207.19,127.85 L207.46,128.27 L207.74,128.69 L208.02,129.10 L208.30,129.52 L208.57,129.94 L208.85,130.35 L209.13,130.77 L209.40,131.19 L209.68,131.61 L209.96,132.02 L210.24,132.44 L210.51,132.86 L210.79,133.27 L211.07,133.69 L211.35,134.11 L211.62,134.52 L211.90,134.94 L212.18,135.35 L212.46,135.77 L212.74,136.18 L213.02,136.60 L213.30,137.01 L213.59,137.42 L213.87,137.84 L214.16,138.25 L214.44,138.66 L214.73,139.07 L215.02,139.48 L215.30,139.89 L215.59,140.29 L215.88,140.70 L216.18,141.11 L216.47,141.51 L216.76,141.92 L217.06,142.32 L217.36,142.72 L217.65,143.12 L217.95,143.52 L218.25,143.92 L218.55,144.32 L218.86,144.72 L219.16,145.12 L219.47,145.51 L219.77,145.91 L220.08,146.30 L220.39,146.69 L220.70,147.08 L221.01,147.47 L221.32,147.86 L221.64,148.25 L221.96,148.63 L222.27,149.02 L222.59,149.40 L222.91,149.79 L223.23,150.17 L223.56,150.55 L223.88,150.93 L224.21,151.30 L224.54,151.68 L224.87,152.05 L225.20,152.43 L225.53,152.80 L225.86,153.17 L226.20,153.54 L226.54,153.90 L226.87,154.27 L227.22,154.64 L227.56,155.00 L227.90,155.36 L228.25,155.72 L228.59,156.08 L228.94,156.43 L229.29,156.79 L229.65,157.14 L230.00,157.49 L230.36,157.85 L230.72,158.19 L231.07,158.54 L231.44,158.89 L231.80,159.23 L232.17,159.57 L232.53,159.91 L232.90,160.25 L233.27,160.58 L233.65,160.92 L234.02,161.25 L234.40,161.58 L234.78,161.91 L235.16,162.24 L235.54,162.56 L235.92,162.88 L236.31,163.20 L236.70,163.52 L237.09,163.84 L237.48,164.15 L237.88,164.47 L238.27,164.78 L238.67,165.09 L239.07,165.39 L239.47,165.70 L239.87,166.00 L240.28,166.30 L240.69,166.60 L241.09,166.89 L241.50,167.18 L241.92,167.48 L242.33,167.76 L242.74,168.05 L243.16,168.33 L243.58,168.62 L244.00,168.89 L244.42,169.17 L244.84,169.45 L245.27,169.72 L245.69,169.99 L246.12,170.25 L246.55,170.52 L246.98,170.78 L247.41,171.04 L247.84,171.29 L248.27,171.55 L248.71,171.80 L249.15,172.05 L249.58,172.29 L250.02,172.54 L250.46,172.78 L250.91,173.02 L251.35,173.25 L251.79,173.48 L252.24,173.71 L252.68,173.94 L253.13,174.16 L253.58,174.38 L254.03,174.60 L254.48,174.82 L254.93,175.03 L255.38,175.24 L255.84,175.45 L256.29,175.65 L256.75,175.85 L257.20,176.05 L257.66,176.25 L258.12,176.44 L258.58,176.63 L259.04,176.82 L259.50,177.01 L259.97,177.19 L260.43,177.38 L260.89,177.56 L261.36,177.73 L261.83,177.91 L262.29,178.08 L262.76,178.25 L263.23,178.41 L263.70,178.58 L264.17,178.74 L264.64,178.90 L265.11,179.06 L265.59,179.21 L266.06,179.37 L266.54,179.52 L267.01,179.67 L267.49,179.81 L267.96,179.96 L268.44,180.10 L268.92,180.24 L269.40,180.38 L269.88,180.51 L270.36,180.65 L270.84,180.78 L271.32,180.91 L271.81,181.04 L272.29,181.16 L272.77,181.29 L273.26,181.41 L273.74,181.53 L274.23,181.65 L274.71,181.76 L275.20,181.88 L275.69,181.99 L276.18,182.10 L276.67,182.21 L277.16,182.31 L277.64,182.42 L278.14,182.52 L278.63,182.62 L279.12,182.72 L279.61,182.82 L280.10,182.92 L280.59,183.01 L281.09,183.11 L281.58,183.20 L282.07,183.29 L282.57,183.38 L283.06,183.46 L283.56,183.55 L284.05,183.63 L284.55,183.71 L285.05,183.79 L285.54,183.87 L286.04,183.95 L286.54,184.03 L287.03,184.10 L287.53,184.18 L288.03,184.25 L288.53,184.32 L289.03,184.39 L289.52,184.46 L290.02,184.52 L290.52,184.59 L291.02,184.65 L291.52,184.72 L292.02,184.78 L292.52,184.84 L293.02,184.90 L293.52,184.96 L294.02,185.01 L294.52,185.07 L295.02,185.12 L295.53,185.18 L296.03,185.23 L296.53,185.28 L297.03,185.33 L297.53,185.38 L298.03,185.43 L298.53,185.48 L299.03,185.53 L299.54,185.57 L300.04,185.62 L300.54,185.66 L301.04,185.71 L301.54,185.75" fill="none" stroke="#067406" stroke-width="1.50" stroke-linejoin="round" stroke-linecap="round"/>
<path d="M40.50,121.50 L43.80,119.90 L46.20,117.40 L48.20,113.90 L51.20,106.50 L52.60,95.70 L53.90,85.20 L54.60,79.30 L55.60,77.90 L57.00,81.20 L57.90,87.80 L59.90,94.40 L62.50,98.40 L66.50,103.30 L68.50,105.50 L69.60,110.00 L71.10,118.20 L73.50,129.70 L76.00,139.60 L77.30,145.00 L79.10,153.20 L82.40,161.50 L86.50,169.70 L89.80,175.50 L92.30,178.70 L92.76,178.93 L93.22,179.17 L93.68,179.40 L94.14,179.62 L94.60,179.84 L95.07,180.05 L95.54,180.25 L96.00,180.45 L96.48,180.65 L96.95,180.83 L97.42,181.02 L97.90,181.19 L98.37,181.36 L98.85,181.52 L99.33,181.67 L99.81,181.82 L100.29,181.97 L100.77,182.10 L101.26,182.23 L101.74,182.35 L102.23,182.46 L102.72,182.57 L103.21,182.67 L103.70,182.76 L104.19,182.85 L104.68,182.93 L105.18,183.00 L105.67,183.06 L106.17,183.12 L106.66,183.16 L107.16,183.21 L107.66,183.24 L108.16,183.27 L108.66,183.30 L109.16,183.32 L109.66,183.34 L110.16,183.35 L110.66,183.36 L111.17,183.37 L111.67,183.37 L112.17,183.37 L112.68,183.37 L113.18,183.37 L113.68,183.36 L114.19,183.36 L114.69,183.35 L115.20,183.35 L115.70,183.35 L116.21,183.34 L116.71,183.34 L117.21,183.34 L117.72,183.35 L118.22,183.35 L118.72,183.36 L119.23,183.37 L119.73,183.38 L120.23,183.40 L120.74,183.42 L121.24,183.44 L121.74,183.46 L122.24,183.48 L122.74,183.51 L123.24,183.54 L123.74,183.57 L124.24,183.60 L124.75,183.63 L125.25,183.67 L125.75,183.71 L126.25,183.75 L126.75,183.79 L127.25,183.83 L127.74,183.88 L128.24,183.93 L128.74,183.97 L129.24,184.02 L129.74,184.07 L130.24,184.13 L130.74,184.18 L131.24,184.24 L131.73,184.29 L132.23,184.35 L132.73,184.41 L133.23,184.47 L133.73,184.53 L134.22,184.59 L134.72,184.65 L135.22,184.72 L135.72,184.78 L136.21,184.85 L136.71,184.92 L137.21,184.98 L137.71,185.05 L138.20,185.12 L138.70,185.19 L139.20,185.26 L139.69,185.33 L140.19,185.40 L140.69,185.47 L141.18,185.54 L141.68,185.61 L142.18,185.68 L142.67,185.76 L143.17,185.83 L143.67,185.90 L144.16,185.97 L144.66,186.05 L145.16,186.12 L145.65,186.19 L146.15,186.26 L146.65,186.33 L147.14,186.41 L147.64,186.48 L148.14,186.55 L148.63,186.62 L149.13,186.69 L149.63,186.76 L150.12,186.83 L150.62,186.90 L151.12,186.97 L151.62,187.03 L152.11,187.10 L152.61,187.17 L153.11,187.23 L153.60,187.30 L154.10,187.36 L154.60,187.43 L155.10,187.49 L155.59,187.55 L156.09,187.62 L156.59,187.68 L157.09,187.74 L157.59,187.80 L158.08,187.86 L158.58,187.92 L159.08,187.98 L159.58,188.04 L160.07,188.10 L160.57,188.16 L161.07,188.22 L161.57,188.27 L162.07,188.33 L162.57,188.39 L163.06,188.44 L163.56,188.50 L164.06,188.55 L164.56,188.61 L165.06,188.66 L165.56,188.71 L166.05,188.77 L166.55,188.82 L167.05,188.87 L167.55,188.92 L168.05,188.97 L168.55,189.02 L169.05,189.07 L169.55,189.12 L170.05,189.17 L170.54,189.22 L171.04,189.27 L171.54,189.32 L172.04,189.36 L172.54,189.41 L173.04,189.45 L173.54,189.50 L174.04,189.55 L174.54,189.59 L175.04,189.63 L175.54,189.68 L176.04,189.72 L176.54,189.77 L177.04,189.81 L177.54,189.85 L178.03,189.89 L178.53,189.93 L179.03,189.97 L179.53,190.01 L180.03,190.05 L180.53,190.09 L181.03,190.13 L181.53,190.17 L182.03,190.21 L182.53,190.25 L183.03,190.29 L183.53,190.32 L184.03,190.36 L184.53,190.39 L185.03,190.43 L185.53,190.47 L186.03,190.50 L186.54,190.54 L187.04,190.57 L187.54,190.60 L188.04,190.64 L188.54,190.67 L189.04,190.70 L189.54,190.74 L190.04,190.77 L190.54,190.80 L191.04,190.83 L191.54,190.86 L192.04,190.89 L192.54,190.92 L193.04,190.95 L193.54,190.98 L194.04,191.01 L194.55,191.04 L195.05,191.07 L195.55,191.09 L196.05,191.12 L196.55,191.15 L197.05,191.17 L197.55,191.20 L198.05,191.23 L198.55,191.25 L199.05,191.28 L199.56,191.30 L200.06,191.33 L200.56,191.35 L201.06,191.38 L201.56,191.40 L202.06,191.42 L202.56,191.45 L203.06,191.47 L203.57,191.49 L204.07,191.51 L204.57,191.53 L205.07,191.55 L205.57,191.58 L206.07,191.60 L206.57,191.62 L207.08,191.64 L207.58,191.66 L208.08,191.68 L208.58,191.70 L209.08,191.71 L209.58,191.73 L210.09,191.75 L210.59,191.77 L211.09,191.79 L211.59,191.80 L212.09,191.82 L212.60,191.84 L213.10,191.85 L213.60,191.87 L214.10,191.89 L214.60,191.90 L215.10,191.92 L215.61,191.93 L216.11,191.95 L216.61,191.96 L217.11,191.98 L217.61,191.99 L218.12,192.00 L218.62,192.02 L219.12,192.03 L219.62,192.04 L220.12,192.06 L220.63,192.07 L221.13,192.08 L221.63,192.09 L222.13,192.10 L222.64,192.11 L223.14,192.13 L223.64,192.14 L224.14,192.15 L224.64,192.16 L225.15,192.17 L225.65,192.18 L226.15,192.19 L226.65,192.20 L227.16,192.21 L227.66,192.22 L228.16,192.22 L228.66,192.23 L229.17,192.24 L229.67,192.25 L230.17,192.26 L230.67,192.26 L231.18,192.27 L231.68,192.28 L232.18,192.29 L232.68,192.29 L233.19,192.30 L233.69,192.31 L234.19,192.31 L234.69,192.32 L235.20,192.32 L235.70,192.33 L236.20,192.34 L236.70,192.34 L237.21,192.35 L237.71,192.35 L238.21,192.36 L238.71,192.36 L239.22,192.36 L239.72,192.37 L240.22,192.37 L240.72,192.38 L241.23,192.38 L241.73,192.38 L242.23,192.39 L242.73,192.39 L243.24,192.39 L243.74,192.40 L244.24,192.40 L244.74,192.40 L245.25,192.40 L245.75,192.41 L246.25,192.41 L246.75,192.41 L247.26,192.41 L247.76,192.41 L248.26,192.42 L248.77,192.42 L249.27,192.42 L249.77,192.42 L250.27,192.42 L250.78,192.42 L251.28,192.42 L251.78,192.42 L252.28,192.42 L252.79,192.42 L253.29,192.42 L253.79,192.42 L254.29,192.42 L254.80,192.42 L255.30,192.42 L255.80,192.42 L256.30,192.42 L256.81,192.42 L257.31,192.42 L257.81,192.42 L258.32,192.42 L258.82,192.42 L259.32,192.42 L259.82,192.42 L260.33,192.42 L260.83,192.41 L261.33,192.41 L261.83,192.41 L262.34,192.41 L262.84,192.41 L263.34,192.41 L263.84,192.40 L264.35,192.40 L264.85,192.40 L265.35,192.40 L265.85,192.40 L266.36,192.39 L266.86,192.39 L267.36,192.39 L267.86,192.39 L268.37,192.39 L268.87,192.38 L269.37,192.38 L269.87,192.38 L270.38,192.38 L270.88,192.37 L271.38,192.37 L271.88,192.37 L272.39,192.37 L272.89,192.36 L273.39,192.36 L273.89,192.36 L274.40,192.35 L274.90,192.35 L275.40,192.35 L275.90,192.34 L276.40,192.34 L276.91,192.34 L277.41,192.34 L277.91,192.33 L278.41,192.33 L278.92,192.33 L279.42,192.32 L279.92,192.32 L280.42,192.32 L280.92,192.31 L281.43,192.31 L281.93,192.31 L282.43,192.31 L282.93,192.30 L283.44,192.30 L283.94,192.30 L284.44,192.29 L284.94,192.29 L285.44,192.29 L285.95,192.28 L286.45,192.28 L286.95,192.28 L287.45,192.28 L287.95,192.27 L288.45,192.27 L288.96,192.27 L289.46,192.26 L289.96,192.26 L290.46,192.26 L290.96,192.26 L291.47,192.25 L291.97,192.25 L292.47,192.25 L292.97,192.24 L293.47,192.24 L293.97,192.24 L294.48,192.24 L294.98,192.24 L295.48,192.23 L295.98,192.23 L296.48,192.23 L296.98,192.23 L297.48,192.22 L297.99,192.22 L298.49,192.22 L298.99,192.22 L299.49,192.22 L299.99,192.22 L300.49,192.21 L300.99,192.21 L301.50,192.21" fill="none" stroke="#1616e0" stroke-width="1.50" stroke-linejoin="round" stroke-linecap="round"/>
<path d="M395.50,2.30 V207.60 H654.50" fill="none" stroke="#222" stroke-width="1.1"/>
<path d="M395.50,207.60 V212.00" stroke="#222" stroke-width="1.1"/>
<text x="395.50" y="221.20" class="tl" text-anchor="middle">200</text>
<path d="M414.00,207.60 V209.90" stroke="#222" stroke-width="1.1"/>
<path d="M432.50,207.60 V212.00" stroke="#222" stroke-width="1.1"/>
<text x="432.50" y="221.20" class="tl" text-anchor="middle">300</text>
<path d="M451.00,207.60 V209.90" stroke="#222" stroke-width="1.1"/>
<path d="M469.50,207.60 V212.00" stroke="#222" stroke-width="1.1"/>
<text x="469.50" y="221.20" class="tl" text-anchor="middle">400</text>
<path d="M488.00,207.60 V209.90" stroke="#222" stroke-width="1.1"/>
<path d="M506.50,207.60 V212.00" stroke="#222" stroke-width="1.1"/>
<text x="506.50" y="221.20" class="tl" text-anchor="middle">500</text>
<path d="M525.00,207.60 V209.90" stroke="#222" stroke-width="1.1"/>
<path d="M543.50,207.60 V212.00" stroke="#222" stroke-width="1.1"/>
<text x="543.50" y="221.20" class="tl" text-anchor="middle">600</text>
<path d="M562.00,207.60 V209.90" stroke="#222" stroke-width="1.1"/>
<path d="M580.50,207.60 V212.00" stroke="#222" stroke-width="1.1"/>
<text x="580.50" y="221.20" class="tl" text-anchor="middle">700</text>
<path d="M599.00,207.60 V209.90" stroke="#222" stroke-width="1.1"/>
<path d="M617.50,207.60 V212.00" stroke="#222" stroke-width="1.1"/>
<text x="617.50" y="221.20" class="tl" text-anchor="middle">800</text>
<path d="M636.00,207.60 V209.90" stroke="#222" stroke-width="1.1"/>
<path d="M654.50,207.60 V212.00" stroke="#222" stroke-width="1.1"/>
<text x="654.50" y="221.20" class="tl" text-anchor="middle">900</text>
<path d="M395.50,192.90 H391.50" stroke="#222" stroke-width="1.1"/>
<text x="389.00" y="196.40" class="tl" text-anchor="end">0,0</text>
<path d="M395.50,178.24 H393.40" stroke="#222" stroke-width="1.1"/>
<path d="M395.50,163.58 H391.50" stroke="#222" stroke-width="1.1"/>
<text x="389.00" y="167.08" class="tl" text-anchor="end">0,2</text>
<path d="M395.50,148.92 H393.40" stroke="#222" stroke-width="1.1"/>
<path d="M395.50,134.26 H391.50" stroke="#222" stroke-width="1.1"/>
<text x="389.00" y="137.76" class="tl" text-anchor="end">0,4</text>
<path d="M395.50,119.60 H393.40" stroke="#222" stroke-width="1.1"/>
<path d="M395.50,104.94 H391.50" stroke="#222" stroke-width="1.1"/>
<text x="389.00" y="108.44" class="tl" text-anchor="end">0,6</text>
<path d="M395.50,90.28 H393.40" stroke="#222" stroke-width="1.1"/>
<path d="M395.50,75.62 H391.50" stroke="#222" stroke-width="1.1"/>
<text x="389.00" y="79.12" class="tl" text-anchor="end">0,8</text>
<path d="M395.50,60.96 H393.40" stroke="#222" stroke-width="1.1"/>
<path d="M395.50,46.30 H391.50" stroke="#222" stroke-width="1.1"/>
<text x="389.00" y="49.80" class="tl" text-anchor="end">1,0</text>
<path d="M395.50,31.64 H393.40" stroke="#222" stroke-width="1.1"/>
<path d="M395.50,16.98 H391.50" stroke="#222" stroke-width="1.1"/>
<text x="389.00" y="20.48" class="tl" text-anchor="end">1,2</text>
<path d="M395.50,2.32 H393.40" stroke="#222" stroke-width="1.1"/>
<path d="M395.60,120.00 L399.30,113.50 L403.70,105.00 L406.50,104.40 L409.40,99.50 L412.30,95.80 L412.50,95.33 L412.68,94.85 L412.85,94.37 L413.00,93.89 L413.13,93.41 L413.25,92.92 L413.36,92.43 L413.46,91.94 L413.54,91.45 L413.62,90.95 L413.69,90.46 L413.75,89.96 L413.80,89.46 L413.85,88.96 L413.89,88.46 L413.93,87.96 L413.96,87.46 L414.00,86.96 L414.03,86.45 L414.07,85.95 L414.11,85.45 L414.14,84.95 L414.19,84.45 L414.24,83.95 L414.29,83.45 L414.35,82.95 L414.41,82.46 L414.48,81.96 L414.55,81.46 L414.63,80.97 L414.72,80.48 L414.80,79.98 L414.89,79.49 L414.99,79.00 L415.09,78.51 L415.19,78.01 L415.29,77.52 L415.40,77.03 L415.51,76.54 L415.62,76.05 L415.74,75.57 L415.85,75.08 L415.97,74.59 L416.09,74.10 L416.21,73.61 L416.34,73.12 L416.46,72.64 L416.58,72.15 L416.71,71.66 L416.83,71.17 L416.95,70.69 L417.08,70.20 L417.20,69.71 L417.32,69.23 L417.45,68.74 L417.57,68.25 L417.69,67.76 L417.80,67.27 L417.92,66.79 L418.03,66.30 L418.15,65.81 L418.26,65.32 L418.36,64.83 L418.47,64.34 L418.57,63.85 L418.67,63.36 L418.76,62.86 L418.86,62.37 L418.95,61.88 L419.04,61.39 L419.12,60.89 L419.21,60.40 L419.29,59.91 L419.37,59.41 L419.45,58.92 L419.52,58.42 L419.60,57.93 L419.67,57.43 L419.74,56.94 L419.80,56.44 L419.87,55.94 L419.94,55.45 L420.00,54.95 L420.06,54.45 L420.12,53.96 L420.18,53.46 L420.24,52.96 L420.29,52.46 L420.35,51.97 L420.40,51.47 L420.45,50.97 L420.50,50.47 L420.55,49.97 L420.60,49.47 L420.65,48.97 L420.70,48.48 L420.75,47.98 L420.79,47.48 L420.84,46.98 L420.88,46.48 L420.93,45.98 L420.97,45.48 L421.01,44.98 L421.06,44.48 L421.10,43.98 L421.14,43.48 L421.18,42.98 L421.23,42.48 L421.27,41.98 L421.31,41.48 L421.35,40.98 L421.40,40.48 L421.44,39.98 L421.48,39.48 L421.53,38.98 L421.57,38.48 L421.61,37.98 L421.66,37.48 L421.70,36.98 L421.75,36.49 L421.80,35.99 L421.84,35.49 L421.89,34.99 L421.94,34.49 L421.99,33.99 L422.04,33.49 L422.09,33.00 L422.15,32.50 L422.20,32.00 L422.26,31.50 L422.31,31.00 L422.37,30.51 L422.43,30.01 L422.49,29.51 L422.55,29.02 L422.62,28.52 L422.68,28.03 L422.75,27.53 L422.82,27.03 L422.89,26.54 L422.96,26.04 L423.03,25.55 L423.10,25.05 L423.17,24.56 L423.25,24.07 L423.32,23.57 L423.40,23.08 L423.48,22.59 L423.56,22.09 L423.64,21.60 L423.72,21.11 L423.80,20.62 L423.88,20.12 L423.96,19.63 L424.05,19.14 L424.13,18.65 L424.22,18.16 L424.31,17.67 L424.40,17.18 L424.49,16.68 L424.60,16.19 L424.70,15.70 L424.82,15.20 L424.94,14.70 L425.07,14.20 L425.21,13.70 L425.36,13.20 L425.51,12.70 L425.69,12.19 L425.87,11.68 L426.06,11.17 L426.27,10.65 L426.50,10.14 L426.74,9.65 L426.99,9.19 L427.26,8.78 L427.54,8.43 L427.83,8.17 L428.14,8.02 L428.46,7.97 L428.80,8.05 L429.14,8.23 L429.48,8.49 L429.81,8.83 L430.14,9.22 L430.44,9.64 L430.73,10.08 L430.99,10.53 L431.23,10.98 L431.45,11.45 L431.65,11.93 L431.83,12.41 L432.00,12.90 L432.15,13.40 L432.30,13.90 L432.43,14.40 L432.55,14.91 L432.66,15.42 L432.77,15.93 L432.87,16.45 L432.97,16.96 L433.07,17.47 L433.17,17.98 L433.27,18.49 L433.37,19.00 L433.47,19.50 L433.58,20.00 L433.69,20.50 L433.80,20.99 L433.91,21.48 L434.02,21.98 L434.14,22.46 L434.26,22.95 L434.37,23.44 L434.49,23.92 L434.61,24.41 L434.73,24.89 L434.85,25.37 L434.98,25.85 L435.10,26.33 L435.22,26.81 L435.34,27.29 L435.46,27.77 L435.58,28.25 L435.70,28.73 L435.82,29.22 L435.93,29.70 L436.05,30.18 L436.17,30.66 L436.28,31.15 L436.40,31.63 L436.51,32.12 L436.62,32.60 L436.73,33.09 L436.85,33.57 L436.96,34.06 L437.07,34.54 L437.18,35.03 L437.29,35.52 L437.39,36.01 L437.50,36.50 L437.61,36.98 L437.72,37.47 L437.82,37.96 L437.93,38.45 L438.03,38.94 L438.14,39.43 L438.24,39.92 L438.35,40.41 L438.45,40.90 L438.56,41.39 L438.66,41.89 L438.76,42.38 L438.87,42.87 L438.97,43.36 L439.07,43.85 L439.18,44.34 L439.28,44.84 L439.38,45.33 L439.49,45.82 L439.59,46.31 L439.69,46.80 L439.80,47.30 L439.90,47.79 L440.01,48.28 L440.11,48.77 L440.21,49.27 L440.32,49.76 L440.42,50.25 L440.53,50.74 L440.63,51.23 L440.74,51.72 L440.84,52.22 L440.95,52.71 L441.06,53.20 L441.16,53.69 L441.27,54.18 L441.38,54.67 L441.49,55.16 L441.60,55.65 L441.71,56.14 L441.82,56.63 L441.93,57.12 L442.04,57.61 L442.15,58.10 L442.26,58.59 L442.37,59.08 L442.48,59.57 L442.60,60.06 L442.71,60.54 L442.82,61.03 L442.93,61.52 L443.04,62.01 L443.16,62.50 L443.27,62.99 L443.38,63.47 L443.49,63.96 L443.60,64.45 L443.72,64.94 L443.83,65.43 L443.94,65.92 L444.05,66.41 L444.16,66.89 L444.27,67.38 L444.37,67.87 L444.48,68.36 L444.59,68.85 L444.70,69.34 L444.80,69.83 L444.91,70.32 L445.01,70.81 L445.12,71.30 L445.22,71.79 L445.32,72.28 L445.42,72.77 L445.52,73.26 L445.62,73.76 L445.72,74.25 L445.82,74.74 L445.92,75.23 L446.01,75.73 L446.11,76.22 L446.20,76.71 L446.29,77.20 L446.39,77.70 L446.48,78.19 L446.58,78.68 L446.67,79.18 L446.77,79.67 L446.87,80.16 L446.96,80.65 L447.06,81.14 L447.16,81.63 L447.26,82.12 L447.37,82.61 L447.47,83.10 L447.58,83.59 L447.69,84.08 L447.80,84.57 L447.91,85.05 L448.03,85.54 L448.14,86.02 L448.27,86.50 L448.39,86.99 L448.52,87.47 L448.65,87.95 L448.78,88.43 L448.92,88.90 L449.06,89.38 L449.21,89.85 L449.36,90.33 L449.52,90.80 L449.67,91.27 L449.84,91.74 L450.01,92.20 L450.18,92.67 L450.36,93.13 L450.55,93.59 L450.74,94.05 L450.93,94.51 L451.13,94.97 L451.34,95.42 L451.55,95.87 L451.77,96.32 L451.99,96.77 L452.22,97.22 L452.46,97.66 L452.69,98.10 L452.94,98.54 L453.19,98.98 L453.44,99.41 L453.70,99.85 L453.96,100.28 L454.22,100.71 L454.50,101.14 L454.77,101.56 L455.05,101.98 L455.33,102.40 L455.62,102.82 L455.91,103.24 L456.20,103.65 L456.50,104.06 L456.80,104.47 L457.10,104.88 L457.41,105.29 L457.72,105.69 L458.03,106.09 L458.34,106.49 L458.66,106.88 L458.98,107.28 L459.31,107.67 L459.63,108.06 L459.96,108.45 L460.29,108.83 L460.62,109.21 L460.95,109.59 L461.29,109.97 L461.62,110.35 L461.96,110.72 L462.30,111.09 L462.64,111.46 L462.98,111.82 L463.33,112.19 L463.67,112.55 L464.02,112.91 L464.36,113.26 L464.71,113.62 L465.06,113.97 L465.40,114.31 L465.75,114.66 L466.10,115.00 L466.45,115.34 L466.81,115.68 L467.16,116.01 L467.52,116.34 L467.88,116.67 L468.25,116.99 L468.62,117.31 L469.00,117.62 L469.39,117.93 L469.78,118.23 L470.18,118.53 L470.58,118.82 L471.00,119.10 L471.42,119.38 L471.85,119.66 L472.29,119.92 L472.74,120.18 L473.21,120.44 L473.68,120.69 L474.15,120.93 L474.61,121.19 L475.06,121.45 L475.48,121.72 L475.88,122.01 L476.24,122.32 L476.55,122.66 L476.83,123.02 L477.08,123.40 L477.29,123.80 L477.50,124.22 L477.69,124.65 L477.87,125.10 L478.06,125.56 L478.25,126.03 L478.45,126.51 L478.65,126.99 L478.85,127.48 L479.06,127.97 L479.28,128.46 L479.51,128.95 L479.74,129.44 L479.98,129.93 L480.23,130.41 L480.49,130.88 L480.75,131.34 L481.03,131.80 L481.31,132.24 L481.61,132.67 L481.91,133.08 L482.23,133.48 L482.56,133.85 L482.90,134.21 L483.25,134.54 L483.62,134.86 L484.00,135.14 L484.39,135.40 L484.80,135.63 L485.22,135.83 L485.65,136.00 L486.10,136.14 L486.57,136.25 L487.04,136.32 L487.52,136.37 L488.01,136.39 L488.50,136.38 L489.00,136.34 L489.50,136.28 L490.00,136.20 L490.49,136.09 L490.98,135.95 L491.47,135.80 L491.95,135.62 L492.42,135.43 L492.88,135.21 L493.32,134.98 L493.76,134.72 L494.18,134.46 L494.60,134.18 L495.00,133.88 L495.40,133.57 L495.79,133.26 L496.18,132.93 L496.56,132.60 L496.93,132.25 L497.30,131.91 L497.67,131.55 L498.03,131.20 L498.39,130.84 L498.75,130.49 L499.12,130.13 L499.48,129.78 L499.85,129.43 L500.21,129.08 L500.58,128.74 L500.96,128.40 L501.33,128.07 L501.71,127.75 L502.09,127.42 L502.48,127.10 L502.86,126.79 L503.25,126.47 L503.64,126.16 L504.03,125.85 L504.43,125.55 L504.82,125.24 L505.22,124.94 L505.62,124.64 L506.02,124.34 L506.42,124.04 L506.82,123.74 L507.22,123.44 L507.63,123.14 L508.03,122.84 L508.44,122.54 L508.84,122.24 L509.25,121.93 L509.66,121.63 L510.06,121.32 L510.47,121.01 L510.88,120.71 L511.28,120.40 L511.69,120.09 L512.10,119.79 L512.51,119.50 L512.93,119.21 L513.34,118.93 L513.76,118.66 L514.19,118.40 L514.61,118.15 L515.04,117.92 L515.47,117.70 L515.91,117.50 L516.35,117.32 L516.79,117.16 L517.24,117.03 L517.70,116.91 L518.16,116.82 L518.63,116.75 L519.10,116.71 L519.58,116.71 L520.07,116.73 L520.56,116.78 L521.07,116.86 L521.57,116.97 L522.09,117.09 L522.60,117.21 L523.12,117.34 L523.64,117.46 L524.17,117.57 L524.69,117.65 L525.21,117.71 L525.73,117.73 L526.24,117.70 L526.76,117.65 L527.27,117.57 L527.78,117.47 L528.28,117.36 L528.78,117.24 L529.27,117.12 L529.76,117.01 L530.25,116.92 L530.73,116.84 L531.21,116.79 L531.68,116.77 L532.15,116.79 L532.61,116.83 L533.06,116.90 L533.51,117.00 L533.96,117.13 L534.40,117.29 L534.83,117.46 L535.26,117.66 L535.69,117.89 L536.10,118.13 L536.52,118.40 L536.93,118.68 L537.33,118.98 L537.73,119.30 L538.12,119.63 L538.50,119.98 L538.89,120.34 L539.26,120.72 L539.63,121.10 L540.00,121.50 L540.36,121.90 L540.71,122.31 L541.06,122.73 L541.40,123.15 L541.74,123.58 L542.07,124.01 L542.40,124.44 L542.72,124.87 L543.04,125.31 L543.35,125.74 L543.65,126.17 L543.95,126.60 L544.24,127.02 L544.53,127.45 L544.82,127.88 L545.10,128.30 L545.38,128.73 L545.65,129.15 L545.92,129.57 L546.19,129.99 L546.45,130.41 L546.71,130.83 L546.97,131.25 L547.23,131.67 L547.48,132.09 L547.73,132.50 L547.98,132.92 L548.23,133.34 L548.48,133.75 L548.72,134.17 L548.97,134.58 L549.21,135.00 L549.46,135.41 L549.70,135.83 L549.94,136.24 L550.19,136.66 L550.43,137.07 L550.68,137.49 L550.92,137.90 L551.17,138.32 L551.42,138.73 L551.67,139.15 L551.92,139.57 L552.17,139.98 L552.43,140.40 L552.69,140.82 L552.95,141.24 L553.21,141.66 L553.48,142.08 L553.75,142.50 L554.03,142.92 L554.30,143.34 L554.58,143.76 L554.87,144.18 L555.15,144.60 L555.44,145.02 L555.74,145.44 L556.03,145.85 L556.33,146.27 L556.63,146.68 L556.93,147.09 L557.24,147.49 L557.55,147.90 L557.86,148.30 L558.17,148.69 L558.49,149.09 L558.80,149.48 L559.12,149.87 L559.45,150.25 L559.77,150.64 L560.10,151.01 L560.43,151.39 L560.76,151.77 L561.10,152.14 L561.43,152.51 L561.77,152.87 L562.11,153.24 L562.45,153.60 L562.80,153.96 L563.15,154.32 L563.49,154.67 L563.85,155.02 L564.20,155.37 L564.55,155.72 L564.91,156.07 L565.27,156.41 L565.63,156.75 L565.99,157.09 L566.36,157.43 L566.72,157.76 L567.09,158.10 L567.46,158.43 L567.83,158.76 L568.21,159.09 L568.58,159.41 L568.96,159.74 L569.34,160.06 L569.72,160.38 L570.10,160.70 L570.48,161.02 L570.86,161.33 L571.25,161.65 L571.64,161.96 L572.03,162.27 L572.42,162.59 L572.81,162.89 L573.20,163.20 L573.59,163.51 L573.99,163.82 L574.39,164.12 L574.78,164.42 L575.18,164.73 L575.58,165.03 L575.99,165.33 L576.39,165.63 L576.79,165.93 L577.20,166.22 L577.60,166.52 L578.01,166.82 L578.42,167.11 L578.83,167.41 L579.24,167.70 L579.65,168.00 L580.06,168.29 L580.47,168.58 L580.89,168.87 L581.30,169.16 L581.72,169.44 L582.14,169.73 L582.56,170.01 L582.98,170.30 L583.40,170.58 L583.82,170.86 L584.24,171.13 L584.67,171.41 L585.09,171.68 L585.52,171.95 L585.95,172.22 L586.37,172.49 L586.80,172.75 L587.24,173.01 L587.67,173.27 L588.10,173.53 L588.54,173.78 L588.97,174.04 L589.41,174.28 L589.85,174.53 L590.29,174.77 L590.73,175.01 L591.17,175.25 L591.62,175.48 L592.06,175.71 L592.51,175.94 L592.96,176.16 L593.41,176.38 L593.86,176.59 L594.31,176.80 L594.76,177.01 L595.22,177.21 L595.67,177.41 L596.13,177.61 L596.59,177.80 L597.05,177.99 L597.51,178.17 L597.97,178.35 L598.44,178.52 L598.91,178.69 L599.37,178.86 L599.84,179.02 L600.31,179.18 L600.78,179.34 L601.25,179.49 L601.73,179.64 L602.20,179.78 L602.68,179.92 L603.15,180.06 L603.63,180.19 L604.11,180.32 L604.59,180.45 L605.07,180.58 L605.55,180.70 L606.03,180.82 L606.52,180.93 L607.00,181.05 L607.49,181.16 L607.98,181.26 L608.46,181.37 L608.95,181.47 L609.44,181.57 L609.93,181.67 L610.42,181.76 L610.91,181.85 L611.40,181.94 L611.90,182.03 L612.39,182.12 L612.88,182.20 L613.38,182.28 L613.87,182.36 L614.37,182.44 L614.87,182.52 L615.36,182.59 L615.86,182.67 L616.36,182.74 L616.86,182.81 L617.36,182.88 L617.86,182.94 L618.36,183.01 L618.86,183.07 L619.36,183.14 L619.86,183.20 L620.36,183.26 L620.86,183.32 L621.36,183.38 L621.87,183.44 L622.37,183.50 L622.87,183.56 L623.37,183.61 L623.88,183.67 L624.38,183.73 L624.88,183.78 L625.38,183.84 L625.89,183.89 L626.39,183.95 L626.89,184.00 L627.40,184.06 L627.90,184.11 L628.40,184.16 L628.91,184.22 L629.41,184.27 L629.91,184.33 L630.41,184.39 L630.92,184.44 L631.42,184.50 L631.92,184.55 L632.42,184.61 L632.92,184.67 L633.43,184.73 L633.93,184.79 L634.43,184.85 L634.93,184.91 L635.43,184.98 L635.93,185.04 L636.43,185.10 L636.92,185.17 L637.42,185.24 L637.92,185.31 L638.42,185.38 L638.91,185.45 L639.41,185.52 L639.90,185.60 L640.40,185.67 L640.89,185.75 L641.39,185.83 L641.88,185.92 L642.37,186.00 L642.86,186.09 L643.35,186.18 L643.84,186.27 L644.33,186.36 L644.82,186.45 L645.31,186.55 L645.79,186.65 L646.28,186.76 L646.76,186.86 L647.25,186.97 L647.73,187.08 L648.21,187.19 L648.69,187.31 L649.17,187.43 L649.65,187.55 L650.13,187.68 L650.60,187.80 L651.08,187.94 L651.55,188.07 L652.03,188.21 L652.50,188.35 L652.97,188.50 L653.44,188.65 L653.91,188.80 L654.37,188.95" fill="none" stroke="#067406" stroke-width="1.50" stroke-linejoin="round" stroke-linecap="round"/>
<path d="M395.60,121.00 L398.60,117.40 L402.20,113.00 L405.80,108.70 L407.30,104.40 L408.30,98.70 L409.10,90.00 L410.30,76.00 L412.80,72.00 L416.50,69.30 L416.78,69.11 L417.12,68.88 L417.49,68.64 L417.91,68.37 L418.36,68.09 L418.84,67.81 L419.34,67.54 L419.86,67.27 L420.39,67.02 L420.93,66.80 L421.47,66.61 L422.01,66.45 L422.54,66.35 L423.06,66.29 L423.56,66.30 L424.03,66.37 L424.48,66.51 L424.91,66.70 L425.32,66.94 L425.71,67.22 L426.08,67.53 L426.44,67.87 L426.79,68.22 L427.13,68.59 L427.46,68.96 L427.78,69.33 L428.10,69.72 L428.40,70.11 L428.70,70.50 L428.98,70.90 L429.27,71.30 L429.54,71.71 L429.80,72.13 L430.06,72.55 L430.32,72.97 L430.56,73.40 L430.80,73.83 L431.04,74.27 L431.26,74.71 L431.49,75.15 L431.70,75.60 L431.91,76.05 L432.12,76.50 L432.32,76.96 L432.52,77.42 L432.71,77.88 L432.90,78.35 L433.09,78.82 L433.27,79.29 L433.45,79.76 L433.62,80.23 L433.80,80.71 L433.97,81.18 L434.13,81.66 L434.30,82.14 L434.46,82.62 L434.62,83.10 L434.78,83.58 L434.94,84.07 L435.10,84.55 L435.25,85.03 L435.41,85.51 L435.56,86.00 L435.72,86.48 L435.87,86.96 L436.02,87.44 L436.17,87.93 L436.32,88.41 L436.47,88.89 L436.62,89.38 L436.77,89.86 L436.92,90.34 L437.07,90.82 L437.22,91.31 L437.37,91.79 L437.51,92.27 L437.66,92.75 L437.81,93.24 L437.95,93.72 L438.10,94.20 L438.24,94.68 L438.39,95.16 L438.53,95.65 L438.68,96.13 L438.82,96.61 L438.97,97.09 L439.11,97.57 L439.26,98.06 L439.40,98.54 L439.54,99.02 L439.69,99.50 L439.83,99.98 L439.97,100.46 L440.12,100.94 L440.26,101.42 L440.41,101.90 L440.55,102.38 L440.70,102.86 L440.84,103.34 L440.98,103.82 L441.13,104.30 L441.27,104.78 L441.42,105.26 L441.57,105.74 L441.71,106.22 L441.86,106.70 L442.00,107.18 L442.15,107.66 L442.30,108.14 L442.45,108.61 L442.60,109.09 L442.75,109.57 L442.89,110.05 L443.04,110.52 L443.20,111.00 L443.35,111.48 L443.50,111.95 L443.65,112.43 L443.80,112.91 L443.96,113.38 L444.11,113.86 L444.27,114.33 L444.42,114.81 L444.58,115.28 L444.74,115.76 L444.90,116.23 L445.06,116.70 L445.22,117.18 L445.38,117.65 L445.54,118.12 L445.70,118.60 L445.87,119.07 L446.03,119.54 L446.20,120.01 L446.37,120.48 L446.53,120.95 L446.70,121.43 L446.87,121.90 L447.05,122.37 L447.22,122.83 L447.39,123.30 L447.57,123.77 L447.74,124.24 L447.92,124.71 L448.10,125.18 L448.28,125.64 L448.46,126.11 L448.65,126.58 L448.83,127.04 L449.02,127.51 L449.21,127.98 L449.40,128.44 L449.59,128.90 L449.78,129.37 L449.97,129.83 L450.17,130.30 L450.37,130.76 L450.57,131.22 L450.77,131.68 L450.97,132.14 L451.18,132.60 L451.38,133.06 L451.59,133.51 L451.80,133.97 L452.01,134.42 L452.23,134.88 L452.45,135.33 L452.67,135.78 L452.89,136.23 L453.11,136.68 L453.34,137.13 L453.57,137.58 L453.80,138.02 L454.03,138.47 L454.27,138.91 L454.51,139.35 L454.75,139.79 L454.99,140.22 L455.24,140.66 L455.49,141.09 L455.74,141.52 L456.00,141.95 L456.26,142.38 L456.52,142.81 L456.78,143.23 L457.05,143.65 L457.32,144.07 L457.59,144.49 L457.87,144.90 L458.15,145.32 L458.43,145.73 L458.72,146.14 L459.01,146.54 L459.30,146.95 L459.60,147.35 L459.90,147.74 L460.20,148.14 L460.51,148.53 L460.82,148.92 L461.14,149.31 L461.45,149.70 L461.78,150.08 L462.10,150.46 L462.43,150.83 L462.77,151.20 L463.10,151.57 L463.45,151.94 L463.79,152.31 L464.14,152.67 L464.50,153.02 L464.85,153.38 L465.22,153.73 L465.58,154.07 L465.95,154.42 L466.33,154.76 L466.71,155.09 L467.09,155.43 L467.48,155.76 L467.87,156.09 L468.25,156.42 L468.64,156.75 L469.03,157.08 L469.41,157.41 L469.78,157.74 L470.15,158.08 L470.52,158.43 L470.87,158.78 L471.22,159.13 L471.55,159.50 L471.87,159.87 L472.18,160.25 L472.47,160.64 L472.75,161.05 L473.00,161.46 L473.25,161.89 L473.47,162.32 L473.70,162.76 L473.93,163.20 L474.17,163.63 L474.44,164.05 L474.73,164.45 L475.03,164.84 L475.35,165.21 L475.69,165.56 L476.04,165.90 L476.41,166.21 L476.79,166.51 L477.19,166.79 L477.59,167.06 L478.01,167.30 L478.44,167.54 L478.87,167.76 L479.32,167.96 L479.78,168.16 L480.24,168.34 L480.71,168.51 L481.19,168.67 L481.67,168.83 L482.16,168.97 L482.65,169.11 L483.15,169.25 L483.65,169.37 L484.16,169.50 L484.66,169.62 L485.17,169.74 L485.67,169.86 L486.18,169.97 L486.69,170.09 L487.19,170.21 L487.69,170.33 L488.19,170.46 L488.69,170.59 L489.18,170.72 L489.67,170.86 L490.15,171.00 L490.64,171.15 L491.11,171.30 L491.58,171.46 L492.05,171.63 L492.51,171.81 L492.97,171.99 L493.42,172.19 L493.87,172.39 L494.31,172.60 L494.74,172.82 L495.17,173.05 L495.59,173.29 L496.01,173.54 L496.42,173.81 L496.82,174.08 L497.22,174.37 L497.61,174.68 L497.99,174.99 L498.36,175.32 L498.73,175.65 L499.10,175.99 L499.47,176.33 L499.85,176.67 L500.22,177.00 L500.61,177.32 L501.00,177.63 L501.40,177.93 L501.81,178.21 L502.24,178.46 L502.69,178.69 L503.14,178.90 L503.61,179.09 L504.10,179.26 L504.59,179.41 L505.08,179.55 L505.58,179.67 L506.09,179.79 L506.59,179.90 L507.09,179.99 L507.60,180.08 L508.10,180.16 L508.59,180.23 L509.09,180.28 L509.58,180.31 L510.06,180.33 L510.54,180.33 L511.01,180.30 L511.48,180.26 L511.93,180.19 L512.38,180.09 L512.83,179.96 L513.26,179.82 L513.69,179.64 L514.11,179.45 L514.53,179.24 L514.94,179.00 L515.34,178.75 L515.74,178.49 L516.14,178.21 L516.54,177.91 L516.93,177.61 L517.31,177.29 L517.70,176.96 L518.09,176.63 L518.47,176.29 L518.86,175.95 L519.24,175.60 L519.62,175.24 L520.01,174.89 L520.40,174.54 L520.79,174.19 L521.18,173.85 L521.58,173.50 L521.98,173.17 L522.38,172.84 L522.79,172.52 L523.20,172.21 L523.62,171.91 L524.05,171.63 L524.48,171.35 L524.91,171.09 L525.36,170.85 L525.80,170.61 L526.26,170.39 L526.71,170.17 L527.17,169.97 L527.64,169.78 L528.11,169.60 L528.58,169.43 L529.06,169.27 L529.54,169.12 L530.02,168.98 L530.51,168.85 L530.99,168.73 L531.49,168.62 L531.98,168.51 L532.47,168.42 L532.97,168.33 L533.46,168.25 L533.96,168.18 L534.46,168.12 L534.96,168.06 L535.46,168.01 L535.96,167.97 L536.46,167.93 L536.96,167.90 L537.46,167.88 L537.96,167.86 L538.46,167.85 L538.96,167.85 L539.45,167.86 L539.95,167.86 L540.45,167.88 L540.95,167.90 L541.45,167.93 L541.95,167.97 L542.44,168.01 L542.94,168.05 L543.44,168.11 L543.93,168.17 L544.43,168.23 L544.92,168.30 L545.42,168.38 L545.91,168.46 L546.40,168.54 L546.89,168.64 L547.38,168.74 L547.87,168.84 L548.36,168.95 L548.85,169.06 L549.34,169.18 L549.82,169.31 L550.31,169.44 L550.79,169.57 L551.27,169.71 L551.75,169.86 L552.23,170.01 L552.71,170.16 L553.18,170.32 L553.66,170.49 L554.13,170.66 L554.61,170.83 L555.08,171.01 L555.55,171.19 L556.01,171.38 L556.48,171.57 L556.94,171.77 L557.40,171.97 L557.86,172.18 L558.32,172.39 L558.78,172.60 L559.23,172.82 L559.69,173.04 L560.14,173.26 L560.58,173.49 L561.03,173.73 L561.47,173.96 L561.92,174.20 L562.36,174.45 L562.79,174.69 L563.23,174.95 L563.66,175.20 L564.09,175.46 L564.52,175.72 L564.94,175.99 L565.36,176.25 L565.78,176.53 L566.20,176.80 L572.30,181.00 L578.50,185.30 L584.70,189.30 L589.30,192.20 L591.00,192.60" fill="none" stroke="#e2302f" stroke-width="1.50" stroke-linejoin="round" stroke-linecap="round"/>
<path d="M395.60,159.30 L398.80,154.60 L402.10,149.70 L405.30,145.20 L407.00,142.30 L408.60,137.80 L409.80,132.50 L411.20,129.30 L413.20,126.80 L416.60,125.00 L418.00,118.80 L418.80,108.70 L419.80,101.50 L421.70,98.90 L425.40,98.40 L425.86,98.62 L426.31,98.86 L426.74,99.12 L427.16,99.38 L427.57,99.66 L427.96,99.95 L428.35,100.25 L428.72,100.55 L429.09,100.87 L429.44,101.20 L429.78,101.54 L430.11,101.89 L430.44,102.24 L430.75,102.61 L431.06,102.98 L431.35,103.36 L431.64,103.75 L431.92,104.15 L432.20,104.55 L432.46,104.96 L432.72,105.38 L432.98,105.80 L433.22,106.23 L433.46,106.66 L433.70,107.10 L433.93,107.54 L434.16,107.99 L434.38,108.44 L434.59,108.89 L434.81,109.35 L435.02,109.82 L435.22,110.28 L435.43,110.75 L435.63,111.22 L435.83,111.69 L436.02,112.16 L436.22,112.64 L436.41,113.12 L436.60,113.59 L436.80,114.07 L436.99,114.55 L437.18,115.02 L437.37,115.50 L437.56,115.98 L437.76,116.45 L437.95,116.93 L438.15,117.40 L438.35,117.87 L438.55,118.34 L438.75,118.80 L438.95,119.27 L439.16,119.73 L439.36,120.20 L439.57,120.66 L439.77,121.12 L439.98,121.58 L440.19,122.04 L440.40,122.49 L440.61,122.95 L440.82,123.41 L441.03,123.86 L441.24,124.32 L441.45,124.77 L441.66,125.22 L441.87,125.68 L442.08,126.13 L442.29,126.58 L442.50,127.03 L442.71,127.49 L442.92,127.94 L443.13,128.39 L443.34,128.84 L443.55,129.29 L443.75,129.74 L443.96,130.20 L444.17,130.65 L444.37,131.10 L444.57,131.56 L444.78,132.01 L444.98,132.46 L445.18,132.92 L445.37,133.38 L445.57,133.83 L445.77,134.29 L445.96,134.75 L446.15,135.21 L446.34,135.67 L446.53,136.13 L446.71,136.60 L446.90,137.06 L447.08,137.53 L447.26,137.99 L447.43,138.46 L447.61,138.93 L447.78,139.40 L447.95,139.88 L448.12,140.35 L448.29,140.83 L448.45,141.30 L448.61,141.78 L448.78,142.26 L448.94,142.74 L449.10,143.21 L449.26,143.69 L449.42,144.17 L449.58,144.65 L449.74,145.13 L449.90,145.62 L450.05,146.10 L450.21,146.58 L450.37,147.06 L450.53,147.54 L450.69,148.02 L450.85,148.50 L451.01,148.98 L451.17,149.46 L451.33,149.94 L451.50,150.41 L451.66,150.89 L451.83,151.37 L452.00,151.84 L452.17,152.32 L452.34,152.79 L452.51,153.26 L452.69,153.73 L452.87,154.20 L453.05,154.67 L453.23,155.14 L453.42,155.60 L453.61,156.07 L453.80,156.53 L454.00,156.99 L454.19,157.44 L454.40,157.90 L454.60,158.35 L454.81,158.80 L455.03,159.25 L455.24,159.70 L455.46,160.14 L455.69,160.58 L455.92,161.02 L456.16,161.46 L456.40,161.89 L456.64,162.32 L456.89,162.75 L457.14,163.17 L457.40,163.60 L457.67,164.01 L457.94,164.43 L458.22,164.84 L458.50,165.25 L458.79,165.65 L459.08,166.05 L459.39,166.45 L459.69,166.84 L460.01,167.23 L460.33,167.61 L460.65,168.00 L460.98,168.38 L461.32,168.76 L461.65,169.13 L461.99,169.51 L462.33,169.89 L462.66,170.26 L463.00,170.64 L463.34,171.02 L463.67,171.40 L464.01,171.79 L464.34,172.17 L464.67,172.56 L465.00,172.94 L465.33,173.33 L465.67,173.71 L466.00,174.09 L466.34,174.46 L466.69,174.84 L467.03,175.20 L467.39,175.57 L467.75,175.92 L468.11,176.27 L468.48,176.62 L468.85,176.95 L469.23,177.28 L469.61,177.60 L470.00,177.91 L470.40,178.21 L470.80,178.50 L471.20,178.79 L471.61,179.06 L472.03,179.32 L472.45,179.57 L472.88,179.81 L473.31,180.03 L473.75,180.25 L474.19,180.46 L474.63,180.66 L475.08,180.85 L475.54,181.04 L476.00,181.21 L476.46,181.38 L476.93,181.55 L477.39,181.70 L477.87,181.85 L478.34,182.00 L478.82,182.14 L479.30,182.28 L479.79,182.41 L480.27,182.54 L480.76,182.67 L481.25,182.80 L481.74,182.92 L482.24,183.04 L482.73,183.16 L483.23,183.28 L483.73,183.40 L484.23,183.52 L484.72,183.65 L485.22,183.77 L485.72,183.89 L486.22,184.02 L486.73,184.14 L487.23,184.27 L487.73,184.40 L488.23,184.52 L488.73,184.64 L489.23,184.76 L489.73,184.88 L490.23,185.00 L490.74,185.11 L491.24,185.22 L491.74,185.33 L492.24,185.43 L492.74,185.53 L493.24,185.62 L493.74,185.70 L494.24,185.78 L494.74,185.86 L495.24,185.92 L495.73,185.98 L496.23,186.03 L496.73,186.07 L497.22,186.11 L497.72,186.13 L498.21,186.14 L498.70,186.15 L499.19,186.14 L499.69,186.13 L500.18,186.11 L500.67,186.07 L501.15,186.03 L501.64,185.98 L502.13,185.93 L502.62,185.86 L503.10,185.79 L503.59,185.71 L504.07,185.63 L504.56,185.54 L505.04,185.44 L505.53,185.34 L506.01,185.23 L506.49,185.11 L506.97,184.99 L507.45,184.87 L507.94,184.74 L508.42,184.60 L508.90,184.47 L509.38,184.32 L509.86,184.18 L510.34,184.03 L510.82,183.88 L511.30,183.73 L511.78,183.57 L512.26,183.42 L512.74,183.26 L513.22,183.10 L513.70,182.93 L514.17,182.77 L514.65,182.61 L515.13,182.44 L515.61,182.28 L516.09,182.11 L516.57,181.95 L517.05,181.79 L517.53,181.63 L518.01,181.47 L518.49,181.31 L518.98,181.15 L519.46,181.00 L519.94,180.84 L520.42,180.69 L520.90,180.54 L521.38,180.40 L521.87,180.26 L522.35,180.12 L522.83,179.98 L523.32,179.85 L523.80,179.72 L524.29,179.60 L524.77,179.48 L525.26,179.36 L525.74,179.25 L526.23,179.14 L526.71,179.04 L527.20,178.94 L527.69,178.85 L528.17,178.76 L528.66,178.68 L529.15,178.61 L529.64,178.54 L530.13,178.48 L530.62,178.42 L531.11,178.37 L531.60,178.33 L532.09,178.29 L532.58,178.27 L533.07,178.25 L533.56,178.23 L534.05,178.23 L534.55,178.23 L535.04,178.24 L535.53,178.26 L536.03,178.29 L536.52,178.33 L537.02,178.37 L537.51,178.43 L538.01,178.49 L538.50,178.57 L539.00,178.65 L539.50,178.74 L540.00,178.84 L540.49,178.95 L540.99,179.07 L541.49,179.19 L541.98,179.33 L542.48,179.46 L542.98,179.61 L543.47,179.76 L543.96,179.91 L544.46,180.07 L544.95,180.24 L545.44,180.41 L545.93,180.58 L546.42,180.76 L546.91,180.94 L547.39,181.12 L547.87,181.31 L548.35,181.50 L548.83,181.69 L549.31,181.88 L549.79,182.07 L550.26,182.26 L550.73,182.46 L551.20,182.65 L551.66,182.84 L552.12,183.04 L552.58,183.23 L553.04,183.42 L553.49,183.60 L553.94,183.79 L554.38,183.97 L554.83,184.15 L555.26,184.33 L555.70,184.50 L562.30,187.30 L565.10,189.70 L568.90,190.60 L576.50,192.60 L582.00,192.60 L587.00,192.60 L592.00,192.60 L597.00,192.60 L602.00,192.60 L607.00,192.60 L612.00,192.60 L617.00,192.60 L622.00,192.60 L627.00,192.60 L632.00,192.60 L637.00,192.60 L642.00,192.60 L647.00,192.60 L652.00,192.60 L654.40,192.60" fill="none" stroke="#000" stroke-width="1.50" stroke-linejoin="round" stroke-linecap="round"/>
<rect x="238.50" y="9.50" width="80.00" height="58.80" fill="#fff" stroke="#8a8a8a" stroke-width="1"/>
<path d="M240.00,17.80 H267.40" stroke="#000" stroke-width="1.50"/>
<text x="270.00" y="21.60" class="lg" fill="#000" stroke="#000">PANI (C)</text>
<path d="M240.00,32.10 H267.40" stroke="#e2302f" stroke-width="1.50"/>
<text x="270.00" y="35.90" class="lg" fill="#e2302f" stroke="#e2302f">PANI (B)</text>
<path d="M240.00,46.40 H267.40" stroke="#067406" stroke-width="1.50"/>
<text x="270.00" y="50.20" class="lg" fill="#067406" stroke="#067406">PANI (A)</text>
<path d="M240.00,60.70 H267.40" stroke="#1616e0" stroke-width="1.50"/>
<text x="270.00" y="64.50" class="lg" fill="#1616e0" stroke="#1616e0">PAN</text>
<rect x="544.50" y="1.60" width="122.80" height="45.10" fill="#fff" stroke="#8a8a8a" stroke-width="1"/>
<path d="M546.20,9.40 H573.00" stroke="#067406" stroke-width="1.50"/>
<text x="576.40" y="13.80" class="lg" fill="#067406" stroke="#067406">PAN-PANI(A) 1%</text>
<path d="M546.20,23.90 H573.00" stroke="#e2302f" stroke-width="1.50"/>
<text x="576.40" y="28.30" class="lg" fill="#e2302f" stroke="#e2302f">PAN-PANI(B) 1%</text>
<path d="M546.20,38.40 H573.00" stroke="#000" stroke-width="1.50"/>
<text x="576.40" y="42.80" class="lg" fill="#000" stroke="#000">PAN-PANI(C) 1%</text>
<text x="1.8" y="12" class="pl">a</text>
<text x="357.5" y="11.8" class="pl">b</text>
<text x="170.5" y="238.7" class="ax" text-anchor="middle">Wavelength [nm]</text>
<text x="525.3" y="238.7" class="ax" text-anchor="middle">Wavelength [nm]</text>
<text transform="translate(10.2,100) rotate(-90)" class="ay" text-anchor="middle">Absorbance</text>
<text transform="translate(365.2,99) rotate(-90)" class="ay" text-anchor="middle">Absorbance</text>
</svg>
</body></html>
